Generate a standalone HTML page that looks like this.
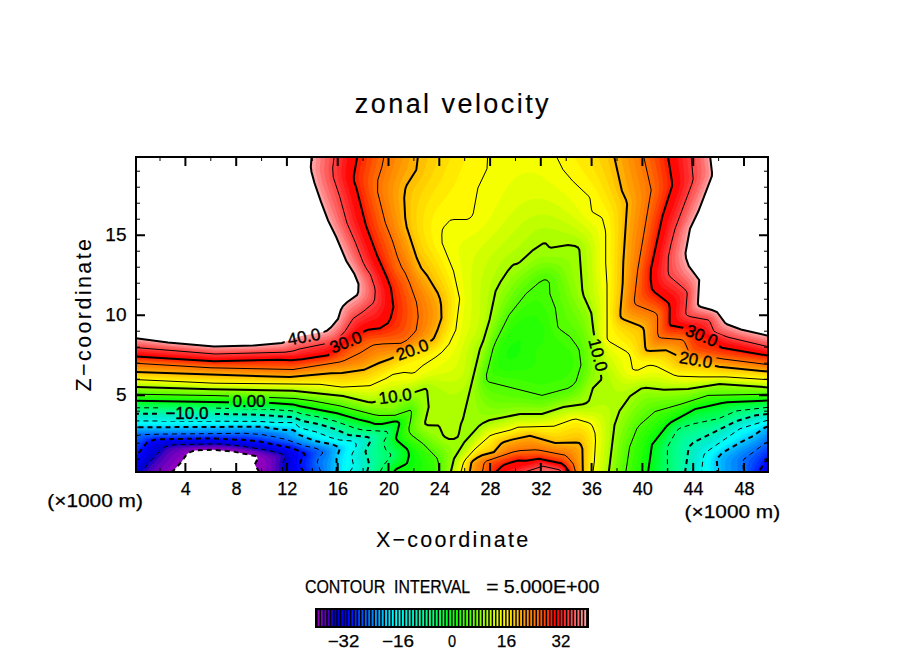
<!DOCTYPE html><html><head><meta charset="utf-8"><style>html,body{margin:0;padding:0;background:#fff}svg{display:block}</style></head><body><svg width="904" height="654" viewBox="0 0 904 654" font-family="Liberation Sans, sans-serif">
<defs><clipPath id="c"><rect x="136" y="157" width="632" height="315"/></clipPath>
<mask id="lm" maskUnits="userSpaceOnUse" x="0" y="0" width="904" height="654"><rect width="904" height="654" fill="#fff"/><rect x="-20.0" y="-8" width="40" height="16" fill="#000" transform="translate(304.0 336.6) rotate(-10.8)"/><rect x="-20.0" y="-8" width="40" height="16" fill="#000" transform="translate(345.8 342.1) rotate(-22.0)"/><rect x="-20.0" y="-8" width="40" height="16" fill="#000" transform="translate(412.2 349.6) rotate(-19.7)"/><rect x="-20.0" y="-8" width="40" height="16" fill="#000" transform="translate(395.1 396.1) rotate(-7.9)"/><rect x="-20.0" y="-8" width="40" height="16" fill="#000" transform="translate(249.0 401.3) rotate(0.0)"/><rect x="-26.0" y="-8" width="52" height="16" fill="#000" transform="translate(186.9 413.0) rotate(0.0)"/><rect x="-20.0" y="-8" width="40" height="16" fill="#000" transform="translate(598.3 354.9) rotate(75.6)"/><rect x="-20.0" y="-8" width="40" height="16" fill="#000" transform="translate(701.8 335.4) rotate(22.4)"/><rect x="-20.0" y="-8" width="40" height="16" fill="#000" transform="translate(695.8 359.7) rotate(10.2)"/></mask></defs>
<g clip-path="url(#c)">
<path fill-rule="evenodd" fill="#8c00be" d="M137.0 157.0 768.0 157.0 768.0 472.0 259.3 472.0 255.0 465.0 255.4 463.0 257.6 459.0 257.1 457.0 255.6 456.0 233.0 451.4 213.0 449.8 195.0 450.4 189.0 452.6 186.1 455.0 182.0 461.2 172.2 472.0 136.0 472.0 136.0 157.0 137.0 157.0Z"/>
<path fill-rule="evenodd" fill="#7800be" d="M137.0 157.0 768.0 157.0 768.0 472.0 266.2 472.0 266.3 464.0 265.7 461.0 263.6 458.0 259.0 454.7 233.0 449.9 213.0 448.5 194.4 449.0 185.0 452.0 179.7 456.0 164.7 472.0 136.0 472.0 136.0 157.0 137.0 157.0Z"/>
<path fill-rule="evenodd" fill="#6200be" d="M137.0 157.0 768.0 157.0 768.0 472.0 271.2 472.0 271.8 463.0 271.2 460.0 269.0 457.5 264.4 455.0 257.0 452.5 234.0 448.8 215.0 447.4 194.0 447.8 179.6 451.0 175.0 453.0 172.5 455.0 165.2 464.0 157.6 472.0 136.0 472.0 136.0 157.0 137.0 157.0Z"/>
<path fill-rule="evenodd" fill="#4800be" d="M137.0 157.0 768.0 157.0 768.0 472.0 275.3 472.0 276.0 459.0 274.9 457.0 272.0 455.3 257.0 451.1 233.0 447.3 218.0 446.2 194.0 446.6 175.0 449.0 171.0 450.7 168.1 453.0 162.0 460.6 151.4 472.0 136.0 472.0 136.0 157.0 137.0 157.0Z"/>
<path fill-rule="evenodd" fill="#1e00c3" d="M137.0 157.0 768.0 157.0 768.0 472.0 279.0 472.0 279.0 465.0 280.5 458.0 279.7 456.0 277.0 454.4 263.5 451.0 238.0 446.8 218.0 445.1 179.0 446.2 170.0 447.8 167.2 449.0 165.0 450.8 150.9 466.0 146.2 472.0 136.0 472.0 136.0 157.0 137.0 157.0Z"/>
<path fill-rule="evenodd" fill="#0000cf" d="M137.0 157.0 768.0 157.0 768.0 472.0 282.7 472.0 282.5 464.0 284.8 458.0 284.3 456.0 282.2 454.0 274.0 451.5 263.0 449.4 235.0 445.2 218.0 443.9 176.0 444.6 166.0 446.5 162.0 449.0 150.0 461.6 141.9 472.0 136.0 472.0 136.0 157.0 137.0 157.0Z"/>
<path fill-rule="evenodd" fill="#0000dd" d="M137.0 157.0 768.0 157.0 768.0 472.0 286.5 472.0 286.3 466.0 287.9 458.0 286.7 455.0 284.0 452.9 274.0 450.1 264.0 448.1 236.0 444.1 218.0 442.8 176.0 443.2 163.0 445.0 158.7 447.0 156.0 449.2 138.3 471.0 137.4 472.0 136.0 472.0 136.0 157.0 137.0 157.0Z"/>
<path fill-rule="evenodd" fill="#0000ea" d="M137.0 157.0 768.0 157.0 768.0 472.0 290.4 472.0 289.9 467.0 290.9 460.0 290.7 457.0 288.7 454.0 285.0 451.7 263.0 446.5 236.6 443.0 217.0 441.7 175.0 442.0 164.0 442.9 158.6 444.0 155.0 445.6 152.2 448.0 143.6 460.0 136.0 468.8 136.0 157.0 137.0 157.0Z"/>
<path fill-rule="evenodd" fill="#0000f8" d="M137.0 157.0 768.0 157.0 768.0 467.5 764.9 472.0 294.3 472.0 293.3 466.0 293.9 456.0 292.0 453.5 287.3 451.0 262.0 444.9 238.0 442.0 215.0 440.5 174.0 440.9 161.0 441.7 156.0 442.6 152.8 444.0 150.0 446.1 141.0 459.0 136.0 464.5 136.0 157.0 137.0 157.0Z"/>
<path fill-rule="evenodd" fill="#0009ff" d="M137.0 157.0 768.0 157.0 768.0 462.9 761.9 472.0 298.7 472.0 297.0 468.0 296.5 464.0 298.5 455.0 297.2 453.0 294.0 451.3 285.0 448.6 261.0 443.3 240.7 441.0 214.0 439.4 174.0 439.8 155.2 441.0 150.2 443.0 147.7 445.0 139.3 457.0 136.0 460.6 136.0 157.0 137.0 157.0Z"/>
<path fill-rule="evenodd" fill="#001bff" d="M137.0 157.0 768.0 157.0 768.0 458.5 764.4 463.0 758.8 472.0 303.7 472.0 300.8 467.0 300.1 463.0 301.2 460.0 304.5 456.0 304.7 454.0 301.8 452.0 295.0 449.0 260.0 441.7 244.0 440.0 214.0 438.3 164.0 439.0 154.0 439.8 149.0 441.5 146.6 443.0 136.0 456.6 136.0 157.0 137.0 157.0Z"/>
<path fill-rule="evenodd" fill="#002eff" d="M137.0 157.0 768.0 157.0 768.0 454.7 762.1 461.0 755.9 472.0 307.4 472.0 305.3 464.0 308.5 455.0 307.7 453.0 306.5 452.0 291.6 446.0 260.0 440.3 245.0 438.7 214.0 437.4 156.0 438.3 150.0 439.5 146.0 441.2 142.7 444.0 136.0 451.7 136.0 157.0 137.0 157.0Z"/>
<path fill-rule="evenodd" fill="#0040ff" d="M137.0 157.0 768.0 157.0 768.0 451.3 763.0 455.4 759.0 460.0 755.3 466.0 753.0 472.0 310.6 472.0 309.0 464.0 311.0 455.0 310.4 453.0 309.0 451.6 292.8 445.0 260.0 439.1 246.0 437.5 215.0 436.5 156.0 437.2 149.0 438.4 145.0 439.7 136.0 447.2 136.0 157.0 137.0 157.0Z"/>
<path fill-rule="evenodd" fill="#0052ff" d="M137.0 157.0 768.0 157.0 768.0 448.0 760.2 454.0 754.7 460.0 752.1 465.0 750.1 472.0 313.8 472.0 311.8 464.0 313.6 454.0 312.7 452.0 311.6 451.0 292.0 443.7 260.0 437.8 246.0 436.1 217.0 435.5 157.0 436.2 144.7 438.0 136.0 443.5 136.0 157.0 137.0 157.0Z"/>
<path fill-rule="evenodd" fill="#0064ff" d="M137.0 157.0 768.0 157.0 768.0 444.7 757.9 452.0 750.5 459.0 748.4 463.0 747.0 472.0 317.2 472.0 314.3 463.0 314.7 460.0 317.0 454.0 316.9 452.0 316.1 451.0 313.0 449.4 304.0 447.0 294.0 443.1 278.0 439.6 248.0 434.9 213.0 434.5 153.0 435.4 143.0 436.6 136.0 440.0 136.0 157.0 137.0 157.0Z"/>
<path fill-rule="evenodd" fill="#0076ff" d="M137.0 157.0 768.0 157.0 768.0 441.2 744.0 459.0 742.9 462.0 743.3 472.0 320.8 472.0 317.2 462.0 318.7 458.0 322.8 453.0 321.8 451.0 317.0 448.6 305.0 446.0 286.0 439.5 271.0 436.1 261.0 434.4 245.0 433.3 157.0 434.2 143.0 434.7 136.0 435.6 136.0 157.0 137.0 157.0Z"/>
<path fill-rule="evenodd" fill="#0089ff" d="M137.0 157.0 768.0 157.0 768.0 437.2 760.0 443.7 743.0 454.3 739.7 457.0 738.2 459.0 737.1 462.0 737.6 472.0 324.2 472.0 322.5 463.0 322.9 461.0 326.8 454.0 326.7 452.0 325.0 450.0 318.0 447.2 304.0 444.1 278.0 434.4 270.0 432.9 259.0 432.0 136.0 433.0 136.0 157.0 137.0 157.0Z"/>
<path fill-rule="evenodd" fill="#009bff" d="M137.0 157.0 768.0 157.0 768.0 433.6 758.0 441.8 740.0 452.2 734.0 457.0 731.8 460.0 730.9 463.0 731.2 472.0 327.3 472.0 327.2 463.0 329.8 453.0 329.4 451.0 328.0 449.4 322.5 447.0 306.0 443.0 295.0 439.5 286.0 434.8 282.0 433.5 260.0 430.4 167.0 431.6 136.0 431.4 136.0 157.0 137.0 157.0Z"/>
<path fill-rule="evenodd" fill="#00adff" d="M137.0 157.0 768.0 157.0 768.0 430.6 756.0 440.0 736.1 451.0 727.9 457.0 725.9 460.0 725.1 463.0 725.8 472.0 330.4 472.0 330.7 462.0 332.7 452.0 331.8 449.0 328.0 447.0 315.0 443.9 296.0 438.0 286.0 432.9 260.0 429.0 166.0 430.2 136.0 429.9 136.0 157.0 137.0 157.0Z"/>
<path fill-rule="evenodd" fill="#00bfff" d="M137.0 157.0 768.0 157.0 768.0 428.2 764.6 430.0 754.0 438.3 735.7 448.0 724.4 455.0 721.9 458.0 720.6 461.0 721.4 472.0 333.4 472.0 333.7 460.0 335.9 450.0 335.2 448.0 331.8 446.0 316.0 442.9 297.0 436.2 295.4 435.0 295.0 433.0 294.0 431.9 278.0 431.1 264.0 428.1 260.0 427.8 136.0 428.6 136.0 157.0 137.0 157.0Z"/>
<path fill-rule="evenodd" fill="#00d1ff" d="M137.0 157.0 768.0 157.0 768.0 426.3 764.2 428.0 754.0 435.4 739.0 443.2 722.0 453.2 718.5 457.0 716.8 460.0 717.5 472.0 336.2 472.0 336.8 468.0 336.5 459.0 337.4 455.0 339.7 449.0 338.6 447.0 332.0 444.3 315.0 441.0 298.0 434.4 295.0 431.0 293.0 430.1 279.0 429.6 270.0 427.8 260.0 426.7 136.0 427.3 136.0 157.0 137.0 157.0Z"/>
<path fill-rule="evenodd" fill="#00e4ff" d="M137.0 157.0 768.0 157.0 768.0 424.9 764.7 426.0 754.0 432.6 741.0 439.1 719.8 452.0 715.9 456.0 713.8 460.0 714.0 472.0 338.8 472.0 339.5 459.0 343.0 449.0 342.0 446.7 332.3 443.0 317.0 439.9 300.0 433.4 295.0 429.7 291.0 428.2 260.0 425.6 136.0 426.0 136.0 157.0 137.0 157.0Z"/>
<path fill-rule="evenodd" fill="#00f6ff" d="M137.0 157.0 768.0 157.0 768.0 423.6 763.7 425.0 743.0 434.9 717.8 451.0 713.7 455.0 711.4 459.0 710.7 463.0 710.7 472.0 341.3 472.0 342.9 458.0 345.9 449.0 344.8 446.0 341.0 444.2 318.0 438.4 300.0 431.9 294.0 427.6 291.0 426.7 259.0 424.6 136.0 424.8 136.0 157.0 137.0 157.0Z"/>
<path fill-rule="evenodd" fill="#00fdfa" d="M137.0 157.0 768.0 157.0 768.0 422.4 743.0 432.0 715.9 450.0 711.5 454.0 709.0 458.0 708.0 463.0 707.6 472.0 343.7 472.0 345.3 465.0 346.3 456.0 349.1 448.0 349.0 446.0 348.2 445.0 345.0 443.6 338.0 442.3 322.7 438.0 301.0 430.9 297.0 428.7 294.0 425.8 259.0 423.6 136.0 423.5 136.0 157.0 137.0 157.0Z"/>
<path fill-rule="evenodd" fill="#00f9f0" d="M137.0 157.0 768.0 157.0 768.0 421.2 742.0 429.9 712.7 450.0 708.2 454.0 706.4 457.0 704.5 472.0 346.4 472.0 349.0 465.0 348.9 456.0 352.8 447.0 352.5 444.0 349.0 442.4 337.0 440.9 313.7 433.0 301.0 429.5 297.9 428.0 295.0 424.9 293.0 423.9 282.0 424.0 259.0 422.5 136.0 422.2 136.0 157.0 137.0 157.0Z"/>
<path fill-rule="evenodd" fill="#00f5e6" d="M137.0 157.0 768.0 157.0 768.0 420.1 741.0 428.1 707.6 451.0 704.4 454.0 703.5 456.0 701.5 472.0 349.7 472.0 353.6 466.0 351.7 456.0 352.1 454.0 356.2 446.0 356.1 444.0 354.6 442.0 351.0 440.9 339.0 439.9 332.0 438.1 318.0 432.5 301.0 428.1 298.0 426.4 295.0 423.4 293.0 422.6 276.0 422.5 257.0 421.4 136.0 420.9 136.0 157.0 137.0 157.0Z"/>
<path fill-rule="evenodd" fill="#00f1dc" d="M137.0 157.0 768.0 157.0 768.0 418.9 754.9 422.0 740.0 426.6 704.4 450.0 702.3 452.0 700.8 455.0 698.4 472.0 354.3 472.0 356.2 469.0 357.0 466.0 355.1 455.0 358.6 445.0 358.2 443.0 356.4 441.0 354.0 439.9 341.0 438.5 334.0 437.0 320.0 431.3 301.0 426.6 294.0 421.7 257.0 420.2 136.0 419.5 136.0 157.0 137.0 157.0Z"/>
<path fill-rule="evenodd" fill="#00edd2" d="M137.0 157.0 768.0 157.0 768.0 417.7 755.0 420.3 739.0 425.2 702.5 448.0 699.5 451.0 697.7 455.0 695.2 472.0 358.1 472.0 359.6 468.0 359.9 465.0 358.1 457.0 358.1 454.0 360.8 445.0 360.7 443.0 359.4 441.0 355.0 438.9 347.0 438.1 337.4 436.0 320.0 429.5 303.0 425.7 294.0 420.8 257.0 418.8 136.0 418.0 136.0 157.0 137.0 157.0Z"/>
<path fill-rule="evenodd" fill="#00eec6" d="M137.0 157.0 768.0 157.0 768.0 416.5 755.0 418.6 737.8 424.0 700.4 446.0 697.2 449.0 695.1 453.0 691.9 472.0 361.3 472.0 362.8 465.0 360.7 456.0 360.7 453.0 363.3 443.0 362.7 441.0 361.6 440.0 356.0 438.0 345.0 436.4 320.0 427.7 304.0 424.5 294.0 419.9 257.0 417.4 136.0 416.5 136.0 157.0 137.0 157.0Z"/>
<path fill-rule="evenodd" fill="#00f2b8" d="M137.0 157.0 768.0 157.0 768.0 415.3 756.0 416.8 737.0 422.6 697.0 444.5 693.6 448.0 691.8 452.0 688.5 472.0 364.2 472.0 365.8 464.0 362.9 453.0 363.4 450.0 366.5 442.0 366.2 440.0 365.0 439.0 358.0 437.2 347.7 436.0 323.0 426.9 305.0 423.2 293.0 418.6 258.0 416.1 214.0 415.2 136.0 415.1 136.0 157.0 137.0 157.0Z"/>
<path fill-rule="evenodd" fill="#00f8ab" d="M137.0 157.0 768.0 157.0 768.0 414.0 756.0 415.2 736.5 421.0 693.0 442.7 690.0 445.8 688.5 449.0 685.1 472.0 367.1 472.0 368.8 466.0 368.9 463.0 365.5 452.0 366.0 449.9 370.0 442.0 370.3 440.0 369.7 438.0 367.0 436.9 348.7 435.0 339.0 430.5 329.0 427.1 320.0 424.4 304.0 421.4 293.0 417.2 262.0 414.9 219.0 413.9 136.0 413.8 136.0 157.0 137.0 157.0Z"/>
<path fill-rule="evenodd" fill="#00fc9d" d="M137.0 157.0 768.0 157.0 768.0 412.7 755.2 414.0 737.0 419.0 718.0 427.8 689.4 440.0 686.0 443.6 684.2 448.0 681.6 472.0 369.8 472.0 371.9 463.0 369.5 453.0 369.5 451.0 372.9 443.0 373.5 440.0 373.1 438.0 372.0 436.6 369.0 435.5 349.0 433.6 340.0 429.2 333.9 427.0 320.4 423.0 303.0 419.7 294.0 415.9 286.0 414.9 262.0 413.6 218.0 412.6 136.0 412.6 136.0 157.0 137.0 157.0Z"/>
<path fill-rule="evenodd" fill="#00ff8e" d="M137.0 157.0 768.0 157.0 768.0 411.4 755.0 412.7 738.0 416.8 718.0 425.6 690.0 435.0 686.0 437.0 682.3 441.0 679.8 447.0 678.1 472.0 372.4 472.0 374.9 462.0 373.8 451.0 376.2 440.0 376.0 438.0 374.6 436.0 370.0 434.3 350.0 432.3 335.0 425.7 321.0 421.7 302.0 418.1 294.0 414.7 266.0 412.6 217.0 411.4 136.0 411.4 136.0 157.0 137.0 157.0Z"/>
<path fill-rule="evenodd" fill="#00ff80" d="M137.0 157.0 768.0 157.0 768.0 410.1 755.0 411.3 738.0 414.8 718.0 423.5 688.0 431.7 683.0 434.0 679.0 438.7 675.5 447.0 674.6 472.0 375.0 472.0 378.6 460.0 377.6 449.0 378.9 438.0 378.4 436.0 377.4 435.0 374.0 433.6 352.0 431.0 339.0 425.5 331.0 423.0 320.0 420.1 302.0 416.7 294.0 413.6 287.0 412.7 264.0 411.4 216.0 410.2 136.0 410.2 136.0 157.0 137.0 157.0Z"/>
<path fill-rule="evenodd" fill="#00ff70" d="M137.0 157.0 768.0 157.0 768.0 408.7 755.0 410.0 737.0 413.0 718.0 421.3 691.0 427.6 680.8 431.0 677.0 435.5 671.4 447.0 671.0 472.0 377.5 472.0 382.9 460.0 383.7 457.0 381.4 450.0 380.8 446.0 381.0 441.9 382.8 435.0 382.2 434.0 380.1 433.0 373.3 432.0 365.0 431.7 355.1 430.0 338.0 423.6 328.0 420.7 302.0 415.3 294.0 412.6 287.0 411.6 265.0 410.3 216.0 409.1 136.0 409.0 136.0 157.0 137.0 157.0Z"/>
<path fill-rule="evenodd" fill="#00ff62" d="M137.0 157.0 768.0 157.0 768.0 407.3 736.0 411.0 718.0 418.9 695.0 423.5 679.0 428.6 675.9 432.0 668.0 446.0 667.4 450.0 667.4 472.0 380.0 472.0 383.1 466.0 389.7 458.0 390.9 455.0 389.8 453.0 385.9 450.0 384.2 446.0 384.1 441.0 387.9 434.0 387.2 432.0 385.0 431.1 366.0 430.5 362.0 429.9 354.0 427.9 333.0 420.5 318.0 416.8 302.0 414.0 294.0 411.2 290.0 410.7 265.0 409.2 216.0 407.9 136.0 407.8 136.0 157.0 137.0 157.0Z"/>
<path fill-rule="evenodd" fill="#00ff50" d="M137.0 157.0 768.0 157.0 768.0 405.9 735.0 409.1 718.0 415.9 696.0 420.1 677.5 427.0 673.8 431.0 664.9 446.0 664.0 452.0 663.7 472.0 382.6 472.0 386.2 466.0 393.0 458.9 394.7 455.0 393.9 452.0 389.0 447.1 387.8 445.0 387.6 441.0 390.2 433.0 389.0 430.1 387.0 429.2 373.0 429.3 364.0 428.7 356.0 426.7 335.0 419.5 317.0 415.2 301.0 412.3 294.0 409.8 290.0 409.3 266.0 408.0 216.0 406.8 136.0 406.5 136.0 157.0 137.0 157.0Z"/>
<path fill-rule="evenodd" fill="#00ff3c" d="M137.0 157.0 768.0 157.0 768.0 404.5 738.0 406.7 732.0 407.7 716.0 413.1 696.0 417.0 677.0 425.1 671.9 430.0 664.4 441.0 661.9 446.0 660.7 452.0 659.8 472.0 385.3 472.0 388.4 467.0 396.2 459.0 397.6 455.0 396.6 451.0 392.0 445.8 390.5 443.0 390.3 440.0 392.0 431.0 391.0 428.6 389.0 427.6 374.0 428.0 364.4 427.0 336.0 418.1 315.0 413.3 301.0 410.9 294.0 408.5 291.0 408.1 268.0 406.8 216.0 405.5 136.0 405.1 136.0 157.0 137.0 157.0Z"/>
<path fill-rule="evenodd" fill="#00ff28" d="M137.0 157.0 768.0 157.0 768.0 403.1 737.0 405.0 727.0 406.4 714.0 410.3 696.0 413.9 676.0 423.6 672.7 426.0 670.0 429.0 661.5 441.0 658.8 446.0 657.5 452.0 656.0 472.0 387.9 472.0 391.3 467.0 398.8 460.0 400.8 455.0 400.3 452.0 399.3 450.0 394.0 444.2 392.7 442.0 392.3 439.0 394.0 429.0 393.4 427.0 392.0 426.0 389.0 425.6 376.0 426.8 369.6 426.0 358.0 423.4 337.0 416.7 291.0 406.9 271.0 405.6 217.0 404.3 136.0 403.7 136.0 157.0 137.0 157.0Z"/>
<path fill-rule="evenodd" fill="#00ff14" d="M137.0 157.0 768.0 157.0 768.0 401.8 735.0 403.4 724.0 404.7 695.0 411.5 675.0 422.1 668.9 427.0 655.8 445.0 654.2 451.0 652.1 472.0 390.7 472.0 394.0 467.5 402.1 461.0 403.8 458.0 404.4 455.0 404.1 452.0 403.1 450.0 396.0 442.9 394.3 440.0 394.3 437.0 396.5 427.0 396.3 425.0 395.0 423.8 391.0 423.7 380.0 425.4 374.0 425.3 357.0 421.1 338.0 415.2 290.0 405.6 272.0 404.3 217.0 403.0 136.0 402.2 136.0 157.0 137.0 157.0Z"/>
<path fill-rule="evenodd" fill="#08ff09" d="M137.0 157.0 768.0 157.0 768.0 400.5 726.0 402.4 708.4 406.0 693.0 409.9 672.0 421.6 667.7 425.0 652.3 444.0 651.0 449.0 648.1 472.0 393.8 472.0 396.3 469.0 404.5 465.0 407.0 463.1 408.9 456.0 408.5 452.0 407.0 449.1 398.0 441.3 396.3 439.0 396.4 436.0 399.3 424.0 399.0 422.8 397.0 421.5 393.0 421.7 382.0 423.9 375.0 424.0 338.0 413.4 290.0 404.1 272.0 403.1 216.0 401.8 136.0 400.8 136.0 157.0 137.0 157.0Z"/>
<path fill-rule="evenodd" fill="#16ff06" d="M137.0 157.0 768.0 157.0 768.0 399.2 726.0 400.8 709.0 403.6 692.4 408.0 670.0 420.1 664.2 425.0 651.5 439.0 648.8 443.0 647.4 448.0 644.0 472.0 400.6 472.0 408.0 469.9 411.7 468.0 414.1 465.0 414.9 460.0 413.7 454.0 411.0 449.0 401.6 441.0 399.1 438.0 398.9 435.0 401.6 424.0 401.0 421.5 399.0 420.2 395.0 420.0 382.0 422.4 376.0 422.5 368.0 419.8 356.0 417.1 339.0 411.9 300.0 404.9 293.0 403.0 272.0 401.9 216.0 400.5 136.0 399.5 136.0 157.0 137.0 157.0Z"/>
<path fill-rule="evenodd" fill="#26ff04" d="M137.0 157.0 768.0 157.0 768.0 397.9 726.0 399.3 709.0 401.4 692.0 406.2 668.0 418.2 660.7 424.0 649.9 435.0 646.0 440.3 643.6 447.0 639.8 472.0 419.0 472.0 420.6 470.0 421.9 467.0 422.0 464.0 421.1 460.0 418.3 454.0 414.9 449.0 412.0 446.0 404.2 440.0 402.0 437.1 401.6 433.0 403.5 423.0 402.4 420.0 400.0 418.8 396.0 418.7 382.0 420.9 377.0 420.9 339.0 410.4 292.0 401.8 216.0 399.3 136.0 398.2 136.0 157.0 137.0 157.0ZM516.5 341.0 511.0 345.1 507.1 351.0 506.5 356.0 507.5 358.0 509.0 359.1 512.0 359.3 515.0 358.1 517.4 356.0 519.1 353.0 520.5 348.0 520.7 343.0 520.0 341.2 519.0 340.6 516.5 341.0Z"/>
<path fill-rule="evenodd" fill="#34ff01" d="M137.0 157.0 768.0 157.0 768.0 396.7 726.0 397.9 708.0 399.6 691.0 404.7 664.0 416.8 659.0 420.4 648.7 430.0 645.1 434.0 642.5 438.0 639.6 446.0 635.4 472.0 428.3 472.0 429.2 469.0 429.1 465.0 427.7 461.0 425.3 457.0 418.3 448.0 407.0 439.2 404.5 436.0 403.9 432.0 405.4 424.0 405.4 421.0 404.0 418.5 402.0 417.4 398.0 417.3 382.0 419.2 377.0 419.2 339.0 409.0 323.0 406.3 312.0 403.7 292.0 400.6 216.0 398.1 136.0 396.9 136.0 157.0 137.0 157.0ZM527.5 316.0 522.0 318.9 516.0 324.5 507.0 336.7 501.0 346.4 498.3 354.0 497.3 362.0 498.0 366.1 501.0 369.3 505.0 370.6 510.0 371.1 524.0 370.1 531.0 367.6 533.3 366.0 535.5 363.0 536.3 359.0 535.8 351.0 543.0 341.9 544.5 336.0 544.5 330.0 541.0 322.5 537.0 317.6 533.0 315.5 527.5 316.0Z"/>
<path fill-rule="evenodd" fill="#44ff00" d="M137.0 157.0 768.0 157.0 768.0 395.4 726.0 396.4 708.0 397.5 691.0 402.8 659.0 415.0 655.0 417.9 644.0 427.8 639.1 435.0 635.0 446.0 630.7 472.0 434.5 472.0 434.9 469.0 434.3 464.0 433.4 461.0 431.6 458.0 420.8 446.0 409.6 438.0 407.0 435.0 406.2 430.0 407.8 420.0 406.9 417.0 405.0 415.6 401.0 415.4 390.8 417.0 377.0 417.3 340.0 407.6 312.0 402.2 293.0 399.6 216.0 396.8 136.0 395.6 136.0 157.0 137.0 157.0ZM532.1 301.0 526.0 304.9 516.0 314.2 512.0 319.3 507.0 327.7 496.1 348.0 492.4 363.0 491.7 371.0 493.0 374.1 498.0 376.6 520.0 380.0 538.0 384.4 544.0 384.5 561.0 379.4 567.0 376.2 570.0 372.5 572.9 367.0 573.7 364.0 573.7 360.0 572.4 355.0 570.0 351.0 558.0 340.1 554.0 335.0 551.4 329.0 547.0 312.7 543.6 306.0 541.0 302.9 538.0 300.8 535.0 300.3 532.1 301.0Z"/>
<path fill-rule="evenodd" fill="#55ff00" d="M137.0 157.0 768.0 157.0 768.0 394.2 708.0 395.4 681.0 404.1 655.0 411.5 640.0 424.6 636.7 429.0 629.6 447.0 625.8 472.0 438.8 472.0 438.4 463.0 437.0 458.0 423.4 444.0 411.5 435.0 409.3 432.0 408.9 428.0 410.7 420.0 411.5 413.0 411.2 411.0 410.0 410.2 395.0 415.3 379.0 415.5 374.0 414.7 340.0 405.9 312.0 400.7 294.0 398.4 216.0 395.6 136.0 394.2 136.0 157.0 137.0 157.0ZM543.3 280.0 538.4 283.0 526.0 293.7 509.0 315.1 496.0 341.1 493.2 348.0 486.4 375.0 486.9 380.0 488.7 382.0 542.0 395.4 568.0 388.3 573.0 385.1 576.2 381.0 581.0 365.0 579.1 350.0 577.0 346.2 570.0 336.7 560.0 329.4 557.9 327.0 555.3 308.0 549.9 294.0 549.4 283.0 547.0 280.1 545.0 279.6 543.3 280.0Z"/>
<path fill-rule="evenodd" fill="#66ff00" d="M137.0 157.0 768.0 157.0 768.0 392.8 709.0 393.2 682.0 401.0 657.0 405.8 652.0 407.5 647.0 411.0 638.0 419.8 634.5 424.0 632.2 428.0 625.0 447.2 623.0 459.3 621.7 472.0 441.7 472.0 441.7 461.0 441.0 458.0 439.5 455.0 426.9 443.0 416.3 434.0 412.9 430.0 412.3 426.0 414.7 415.0 415.0 411.0 413.8 408.0 411.0 406.2 406.4 407.0 396.0 413.1 393.0 413.8 388.0 413.9 375.0 412.9 340.0 404.0 312.0 399.1 293.0 396.9 217.0 394.4 136.0 392.8 136.0 157.0 137.0 157.0ZM540.7 274.0 535.0 277.4 526.0 285.3 520.0 291.8 514.0 299.9 506.0 312.6 492.2 344.0 483.7 373.0 482.9 380.0 483.8 384.0 486.0 387.5 490.0 390.9 495.0 393.3 509.0 396.8 537.0 400.3 543.0 400.3 570.0 392.6 576.4 388.0 581.2 381.0 584.5 369.0 585.1 364.0 584.1 351.0 582.0 343.2 577.0 332.5 568.4 321.0 566.3 317.0 559.8 297.0 557.0 283.0 555.0 278.2 552.0 275.0 549.0 273.5 545.0 273.0 540.7 274.0Z"/>
<path fill-rule="evenodd" fill="#77ff00" d="M137.0 157.0 768.0 157.0 768.0 391.5 720.0 390.4 712.0 390.8 705.0 392.0 683.0 397.9 654.0 401.7 648.0 403.7 643.0 407.3 636.0 414.8 631.0 421.4 627.5 428.0 624.0 437.6 621.4 447.0 618.3 472.0 444.2 472.0 444.8 460.0 444.0 456.0 442.5 453.0 438.8 449.0 420.0 433.5 416.2 429.0 415.4 424.0 417.4 414.0 417.5 410.0 416.0 405.9 414.0 404.0 412.0 403.2 409.0 403.1 405.0 404.3 394.0 411.1 388.0 411.6 371.0 409.9 339.0 401.8 313.0 397.7 293.0 395.4 136.0 391.4 136.0 157.0 137.0 157.0ZM543.3 268.0 537.0 270.2 530.0 274.9 521.0 283.1 513.5 292.0 509.0 299.0 504.0 308.4 491.0 341.0 481.4 373.0 480.3 382.0 481.6 388.0 485.0 394.3 489.0 398.6 494.0 401.4 502.0 402.8 520.0 402.8 537.0 404.4 546.0 403.4 568.0 396.9 574.4 394.0 578.0 391.2 580.6 388.0 585.3 379.0 588.2 369.0 588.5 360.0 586.8 345.0 582.4 330.0 579.0 322.2 572.0 310.0 568.8 303.0 566.0 295.0 562.4 281.0 559.8 275.0 557.0 271.6 553.0 269.1 548.0 267.8 543.3 268.0Z"/>
<path fill-rule="evenodd" fill="#89ff00" d="M137.0 157.0 768.0 157.0 768.0 390.1 717.0 388.1 706.0 389.8 686.0 394.5 667.0 396.7 651.0 397.2 644.6 399.0 639.5 403.0 633.0 410.8 627.3 419.0 623.3 427.0 620.8 435.0 618.3 446.0 615.1 472.0 446.5 472.0 447.8 459.0 447.6 455.0 446.7 452.0 443.0 447.6 431.1 438.0 423.0 432.3 419.7 429.0 418.6 427.0 418.1 424.0 420.0 413.0 420.0 408.0 417.9 403.0 414.0 400.4 410.0 400.0 405.0 401.1 394.0 407.2 391.0 408.2 376.0 408.1 368.0 407.1 341.0 400.0 293.0 393.8 136.0 390.0 136.0 157.0 137.0 157.0ZM541.6 263.0 536.0 265.1 531.0 268.2 521.3 276.0 515.2 282.0 506.4 294.0 499.8 309.0 487.8 344.0 479.4 372.0 477.9 380.0 478.2 389.0 481.0 398.4 485.0 404.7 490.0 407.8 498.0 408.9 519.0 406.9 541.0 407.7 547.0 406.5 559.8 402.0 571.0 399.0 577.0 396.3 581.0 392.8 585.2 386.0 590.3 375.0 591.7 369.0 591.8 361.0 590.3 346.0 588.0 333.9 583.0 317.0 575.7 304.0 572.6 297.0 565.4 273.0 562.0 267.6 557.0 264.2 549.0 262.5 541.6 263.0Z"/>
<path fill-rule="evenodd" fill="#9bff00" d="M137.0 157.0 768.0 157.0 768.0 388.8 719.0 385.8 688.0 391.6 665.0 393.3 647.0 392.4 642.0 393.8 636.5 398.0 632.3 403.0 625.0 413.5 619.7 424.0 617.9 430.0 615.7 442.0 612.0 472.0 448.7 472.0 452.1 453.0 451.8 449.0 450.0 447.0 442.0 441.7 434.0 434.9 425.0 429.9 421.9 427.0 420.9 423.0 422.9 412.0 422.9 406.0 420.7 400.0 419.0 398.1 417.0 397.1 412.0 396.7 406.0 397.7 389.0 403.8 372.0 405.3 367.0 404.5 343.0 398.2 293.0 392.2 136.0 388.5 136.0 157.0 137.0 157.0ZM540.2 257.0 536.0 258.5 532.0 260.9 514.3 275.0 505.3 286.0 500.0 295.9 477.6 370.0 475.5 379.0 474.5 391.0 475.9 403.0 478.2 411.0 480.0 413.4 482.0 414.5 487.0 415.0 496.0 414.4 519.0 410.6 542.0 410.8 551.0 408.3 561.0 404.5 575.2 401.0 580.0 398.9 583.5 396.0 594.2 376.0 595.4 370.0 594.9 361.0 592.6 342.0 588.3 318.0 586.4 312.0 580.2 301.0 578.0 296.0 569.6 263.0 567.0 259.7 562.0 257.6 547.0 256.4 540.2 257.0Z"/>
<path fill-rule="evenodd" fill="#adff00" d="M137.0 157.0 768.0 157.0 768.0 387.4 719.0 384.0 688.0 389.1 664.0 389.8 645.0 387.7 640.3 389.0 632.5 394.0 629.2 397.0 620.4 409.0 616.3 419.0 614.2 427.0 608.8 472.0 450.8 472.0 453.5 460.0 456.6 454.0 466.0 440.0 478.0 426.9 482.0 423.6 488.0 420.6 512.0 415.3 520.0 413.9 542.0 413.9 563.0 407.1 582.0 404.4 586.0 403.1 589.0 400.7 593.0 388.0 601.4 379.0 594.6 339.0 591.3 313.0 590.0 309.2 583.9 297.0 582.6 292.0 581.7 285.0 581.9 279.0 580.6 271.0 579.9 254.0 579.1 249.0 578.0 247.5 576.0 246.4 570.0 244.9 551.0 247.7 549.0 247.0 545.0 243.2 542.0 244.0 534.0 249.3 519.0 262.7 514.0 264.5 512.0 265.9 506.3 273.0 496.3 289.0 489.5 320.0 484.0 338.8 479.6 350.0 463.8 416.0 460.6 425.0 458.2 436.0 457.0 437.6 455.0 438.6 450.0 439.2 444.8 437.0 442.6 434.0 440.0 427.7 438.0 425.6 428.0 425.3 425.4 424.0 425.1 422.0 428.7 407.0 427.2 391.0 425.5 389.0 412.0 393.2 377.0 401.6 371.0 402.5 343.0 396.0 294.0 390.8 214.0 389.4 136.0 387.0 136.0 157.0 137.0 157.0Z"/>
<path fill-rule="evenodd" fill="#bfff00" d="M137.0 157.0 768.0 157.0 768.0 386.1 720.0 382.5 687.0 386.8 668.0 386.5 645.0 384.2 640.0 385.2 623.0 391.5 619.0 391.9 616.0 391.0 613.0 387.1 609.6 378.0 604.0 366.3 597.9 345.0 595.9 332.0 594.4 311.0 589.3 296.0 588.3 291.0 588.2 277.0 586.4 253.0 584.6 245.0 580.8 240.0 574.0 235.8 553.0 228.9 545.0 227.8 538.0 229.2 531.7 233.0 518.0 247.5 504.5 258.0 501.1 262.0 498.0 267.0 492.0 279.7 489.4 287.0 485.0 321.0 480.7 336.0 475.5 344.0 473.7 348.0 470.7 369.0 468.5 378.0 466.0 384.0 463.0 388.6 460.0 391.6 456.0 393.9 452.0 394.6 448.0 393.9 435.2 386.0 428.0 383.9 423.0 384.6 413.0 389.1 407.0 391.0 388.0 394.9 374.0 398.8 370.0 399.2 343.0 394.1 294.0 389.4 214.0 388.2 136.0 385.5 136.0 157.0 137.0 157.0ZM600.0 404.9 604.0 404.7 607.0 405.9 609.1 409.0 610.2 414.0 609.5 436.0 605.5 472.0 453.0 472.0 455.6 462.0 458.8 456.0 469.5 442.0 478.0 432.4 483.0 427.7 488.0 424.8 516.0 417.7 521.0 417.1 542.0 416.7 566.0 409.7 586.0 408.4 600.0 404.9Z"/>
<path fill-rule="evenodd" fill="#d1ff00" d="M137.0 157.0 768.0 157.0 768.0 384.8 721.0 381.1 686.0 384.5 674.0 384.2 652.0 380.9 644.0 381.2 628.0 384.3 624.0 383.8 620.0 381.8 615.8 377.0 608.0 363.3 603.0 352.5 599.4 342.0 598.0 331.0 597.7 311.0 593.1 289.0 591.1 251.0 590.3 246.0 588.6 241.0 586.0 236.8 582.0 232.7 568.0 223.7 554.0 216.9 548.0 215.2 542.0 214.7 537.0 215.2 532.0 216.8 527.8 219.0 523.0 222.6 495.2 251.0 491.0 256.1 487.4 262.0 483.6 271.0 481.1 282.0 480.4 290.0 480.0 313.0 477.8 327.0 475.7 333.0 470.5 342.0 468.5 347.0 467.0 353.0 465.2 367.0 463.4 373.0 460.3 378.0 456.0 381.0 450.0 382.1 435.0 380.0 427.0 380.3 422.0 381.7 408.0 387.3 390.0 390.6 374.0 395.3 369.0 395.9 346.0 392.7 320.0 389.9 294.0 388.1 215.0 387.0 136.0 384.0 136.0 157.0 137.0 157.0ZM570.0 411.9 577.0 411.5 596.0 412.2 601.0 414.4 603.9 418.0 605.5 424.0 606.0 434.0 602.2 472.0 455.1 472.0 458.0 462.0 460.8 457.0 477.0 437.4 482.3 432.0 487.0 428.6 492.0 426.6 516.0 420.5 544.0 419.0 570.0 411.9Z"/>
<path fill-rule="evenodd" fill="#e4ff00" d="M137.0 157.0 768.0 157.0 768.0 383.4 722.0 379.7 694.0 382.0 679.0 382.0 673.0 381.3 657.0 377.2 650.0 377.3 632.0 379.9 627.0 379.1 623.3 377.0 619.7 373.0 613.5 362.0 605.0 349.2 601.1 340.0 600.3 331.0 600.6 308.0 596.3 278.0 595.3 247.0 594.2 241.0 592.4 236.0 590.0 232.0 586.0 227.8 561.0 207.3 554.0 203.2 548.0 200.7 542.0 199.1 537.0 198.7 532.0 199.2 527.0 200.7 522.0 203.4 517.0 207.4 511.0 213.8 496.2 232.0 480.0 248.5 475.4 255.0 472.9 262.0 471.6 272.0 471.2 283.0 472.0 304.0 469.7 327.0 463.6 344.0 457.5 364.0 454.1 369.0 450.0 371.6 445.6 373.0 428.0 376.4 409.0 383.5 391.0 386.5 374.0 391.7 369.0 392.6 338.0 390.3 319.0 388.0 296.0 386.8 215.0 385.8 136.0 382.6 136.0 157.0 137.0 157.0ZM574.0 414.0 580.0 414.2 593.0 416.1 598.0 419.0 600.5 423.0 602.0 429.0 602.4 436.0 598.9 472.0 457.1 472.0 459.7 463.0 462.5 458.0 478.0 439.8 484.0 433.9 488.1 431.0 492.0 429.5 506.0 426.2 517.0 422.8 536.0 422.3 547.0 421.2 554.0 419.6 568.0 415.0 574.0 414.0Z"/>
<path fill-rule="evenodd" fill="#f6ff00" d="M137.0 157.0 768.0 157.0 768.0 381.8 725.0 378.4 697.0 379.6 679.0 379.4 674.0 378.6 663.0 374.1 657.0 372.5 652.0 372.6 636.0 376.0 631.0 375.5 627.0 373.2 624.0 369.0 621.2 361.0 619.6 358.0 607.0 346.0 604.3 342.0 603.3 339.0 602.9 332.0 603.8 314.0 603.6 303.0 602.5 290.0 600.2 276.0 599.9 243.0 599.0 236.0 597.4 231.0 594.0 225.9 582.7 215.0 573.0 201.7 565.0 194.0 542.0 176.6 535.0 173.3 529.0 172.4 525.0 172.9 521.0 174.2 517.0 176.6 513.0 180.2 508.0 186.1 503.4 193.0 491.3 216.0 486.0 224.0 478.0 231.7 463.3 241.0 459.9 245.0 458.7 249.0 458.7 254.0 461.6 270.0 465.0 300.0 461.6 330.0 456.1 347.0 453.0 353.5 447.0 361.1 438.2 367.0 413.0 378.8 406.0 380.3 393.0 381.3 381.0 385.2 373.0 388.5 368.0 389.3 340.0 388.8 325.0 386.6 314.0 385.9 215.0 384.5 136.0 381.1 136.0 157.0 137.0 157.0ZM572.0 416.8 578.0 416.5 590.0 419.1 594.0 421.2 596.7 425.0 598.4 431.0 598.9 437.0 595.8 472.0 459.1 472.0 461.6 463.0 463.8 459.0 477.0 444.1 485.3 436.0 489.7 433.0 519.0 424.8 538.0 424.6 552.0 423.3 572.0 416.8Z"/>
<path fill-rule="evenodd" fill="#fff800" d="M137.0 157.0 487.6 157.0 487.0 160.0 487.2 168.0 477.9 188.0 473.6 212.0 472.1 216.0 470.0 218.0 467.0 219.5 454.0 219.5 450.0 220.3 444.0 226.8 442.0 231.0 441.8 239.0 442.3 244.0 453.5 271.0 456.3 282.0 459.7 300.0 456.0 329.4 448.6 345.0 439.0 354.7 423.5 365.0 414.0 372.8 411.0 373.2 404.0 372.4 393.0 374.4 385.0 379.0 372.3 385.0 369.0 385.9 341.0 387.1 328.0 384.9 318.0 384.2 215.0 383.2 136.0 379.6 136.0 157.0 137.0 157.0ZM557.0 157.0 768.0 157.0 768.0 379.7 725.0 376.9 701.0 377.0 677.0 376.1 673.7 375.0 658.0 367.0 653.0 365.5 650.0 365.3 646.7 366.0 638.0 370.1 634.5 370.0 632.5 369.0 631.8 367.0 630.7 359.0 629.0 353.9 625.5 351.0 610.0 342.0 607.9 340.0 607.1 338.0 607.0 285.0 605.8 264.0 605.8 235.0 605.1 229.0 602.9 220.0 601.0 217.0 592.4 212.0 591.4 209.0 590.1 199.0 589.0 196.5 573.0 181.3 563.2 170.0 561.0 166.6 557.0 157.0ZM572.0 419.7 577.0 419.2 588.0 422.5 591.0 424.1 593.0 427.4 595.2 434.0 595.6 438.0 594.5 460.0 593.0 472.0 460.9 472.0 463.4 463.0 465.8 459.0 476.0 448.0 488.0 437.2 491.0 435.2 510.0 430.2 519.0 427.0 554.0 426.2 572.0 419.7Z"/>
<path fill-rule="evenodd" fill="#ffea00" d="M137.0 157.0 466.3 157.0 454.9 184.0 450.0 192.0 436.0 210.0 432.8 217.0 431.2 224.0 431.2 233.0 433.2 242.0 435.6 248.0 443.4 263.0 449.3 277.0 452.7 287.0 455.1 298.0 455.1 307.0 452.6 325.0 450.6 331.0 445.2 341.0 439.9 348.0 432.0 353.5 423.0 357.6 400.8 366.0 390.2 371.0 372.0 381.1 365.0 382.9 342.0 384.9 322.0 382.4 291.0 382.8 216.0 381.7 136.0 378.2 136.0 157.0 137.0 157.0ZM574.0 157.0 768.0 157.0 768.0 377.5 677.0 372.6 672.0 370.5 662.0 364.2 658.0 362.4 652.0 361.2 643.0 361.0 639.0 359.8 636.0 357.2 632.0 350.2 629.0 346.4 618.0 337.0 615.0 332.7 612.5 327.0 610.1 316.0 609.9 307.0 611.5 273.0 610.6 259.0 610.9 232.0 609.4 217.0 607.6 212.0 596.0 189.3 581.6 169.0 574.0 157.0ZM574.0 423.0 579.0 423.3 586.0 426.2 589.0 429.1 591.4 434.0 592.5 439.0 592.6 447.0 590.7 472.0 462.7 472.0 465.0 463.0 468.3 458.0 477.0 449.8 494.0 436.9 519.0 429.3 532.0 428.6 554.0 429.7 559.0 428.5 574.0 423.0Z"/>
<path fill-rule="evenodd" fill="#ffdd00" d="M137.0 157.0 450.8 157.0 441.6 179.0 430.0 197.7 427.0 203.6 424.2 212.0 423.0 221.0 423.7 232.0 426.7 243.0 429.4 249.0 438.5 265.0 445.5 280.0 449.2 289.0 451.2 297.0 451.7 306.0 450.2 321.0 447.8 329.0 442.5 340.0 438.0 345.9 432.0 350.1 404.0 360.8 371.0 377.7 364.0 379.7 348.0 382.0 341.0 382.4 330.0 380.7 323.0 380.4 291.0 381.4 215.0 380.1 136.0 376.8 136.0 157.0 137.0 157.0ZM588.0 157.0 768.0 157.0 768.0 375.8 717.0 373.1 698.0 371.1 680.0 370.2 674.0 368.2 665.0 361.7 661.0 359.7 656.0 358.7 644.0 358.1 641.0 357.0 638.7 355.0 631.0 340.7 618.0 328.9 615.0 324.5 613.3 320.0 612.5 312.0 614.3 285.0 614.2 258.0 614.9 233.0 614.0 216.0 610.8 205.0 600.0 181.1 587.5 157.0 588.0 157.0ZM572.0 428.0 577.0 427.4 582.1 429.0 586.0 432.1 588.8 437.0 589.9 442.0 590.2 448.0 588.5 472.0 464.5 472.0 466.6 463.0 470.0 458.0 478.0 451.5 488.0 446.5 494.4 440.0 499.0 437.3 522.0 430.9 533.0 430.4 551.0 432.9 556.0 433.1 561.3 432.0 572.0 428.0Z"/>
<path fill-rule="evenodd" fill="#ffcf00" d="M137.0 157.0 438.3 157.0 431.7 176.0 422.2 192.0 419.4 198.0 417.0 208.0 416.2 219.0 417.5 231.0 421.9 246.0 424.9 252.0 433.0 265.0 443.0 284.6 446.0 291.3 447.6 297.0 448.3 306.0 447.3 320.0 444.2 330.0 439.5 340.0 436.0 344.4 431.0 347.6 405.7 357.0 370.0 374.5 363.0 376.6 346.0 379.4 341.0 379.6 332.0 378.4 325.0 378.2 290.0 380.0 214.0 378.4 136.0 375.3 136.0 157.0 137.0 157.0ZM598.0 157.0 768.0 157.0 768.0 374.3 719.0 371.1 699.0 368.5 681.0 367.5 675.0 365.4 667.4 359.0 664.0 357.0 659.0 356.0 646.0 356.1 643.0 355.0 640.7 353.0 639.1 350.0 636.4 340.0 634.5 336.0 631.4 333.0 620.0 325.7 617.0 322.2 615.3 318.0 614.9 312.0 617.1 286.0 617.3 260.0 618.5 228.0 618.0 213.0 616.0 204.0 598.0 157.0ZM530.0 432.0 536.0 432.7 556.0 436.8 562.0 436.1 575.0 432.4 579.0 432.8 582.0 434.2 584.0 436.0 585.9 439.0 587.5 445.0 587.8 451.0 586.5 472.0 466.2 472.0 468.1 463.0 470.7 459.0 479.0 453.1 491.0 448.5 496.2 442.0 498.5 440.0 503.0 437.9 519.0 433.5 530.0 432.0Z"/>
<path fill-rule="evenodd" fill="#ffc000" d="M137.0 157.0 427.5 157.0 423.7 173.0 421.1 178.0 414.4 188.0 412.0 194.0 410.6 203.0 410.4 220.0 413.0 233.3 419.0 251.7 427.9 266.0 441.0 289.6 443.9 297.0 444.9 305.0 444.5 319.0 440.3 332.0 437.0 339.2 434.9 342.0 431.0 344.6 406.4 354.0 367.0 372.1 362.0 373.6 344.0 376.4 329.0 375.9 290.0 378.5 214.0 376.7 136.0 373.8 136.0 157.0 137.0 157.0ZM607.0 157.0 768.0 157.0 768.0 372.9 720.0 369.0 700.0 365.8 681.0 364.4 677.0 363.0 670.0 356.1 665.0 353.4 661.0 353.0 649.0 354.0 646.0 353.7 643.4 352.0 642.0 349.2 640.6 337.0 639.0 332.0 635.2 329.0 622.0 322.9 619.0 320.3 617.8 318.0 617.4 314.0 619.8 287.0 620.2 263.0 622.2 223.0 622.2 208.0 621.2 203.0 615.7 189.0 607.0 157.0ZM527.0 433.9 534.0 434.2 556.0 440.2 563.0 439.8 576.0 437.4 579.0 437.8 581.0 438.8 584.0 442.7 585.2 448.0 584.6 472.0 467.9 472.0 470.0 462.0 472.0 459.6 476.0 456.7 481.0 454.0 490.0 451.7 493.0 450.3 498.5 443.0 502.0 440.4 510.0 437.9 527.0 433.9Z"/>
<path fill-rule="evenodd" fill="#ffaf00" d="M137.0 157.0 417.9 157.0 416.3 170.0 407.0 184.6 405.3 189.0 404.2 199.0 405.5 221.0 406.7 227.0 414.0 250.6 420.2 266.0 421.8 269.0 426.8 275.0 437.0 291.7 440.0 299.0 441.1 305.0 441.5 318.0 437.5 330.0 434.0 338.0 432.0 340.2 429.0 341.8 364.0 369.8 343.0 373.0 332.0 373.3 291.0 377.1 213.0 375.0 136.0 372.1 136.0 157.0 137.0 157.0ZM615.0 157.0 768.0 157.0 768.0 371.6 722.0 367.2 714.0 365.8 686.0 359.6 681.0 357.8 676.6 355.0 666.0 350.2 650.0 351.1 647.0 350.6 646.0 349.7 645.2 347.0 644.0 331.0 643.0 327.9 640.0 325.9 624.0 319.7 621.0 317.5 620.3 312.0 622.5 286.0 623.3 262.0 627.1 204.0 626.5 201.0 621.6 190.0 614.3 157.0 615.0 157.0ZM527.0 436.0 533.0 436.1 555.0 442.9 576.0 442.4 579.2 443.0 581.0 445.0 582.4 449.0 582.8 472.0 469.8 472.0 471.3 463.0 472.6 461.0 476.8 458.0 482.0 455.3 494.0 452.0 496.2 450.0 500.8 444.0 503.0 442.4 510.5 440.0 527.0 436.0Z"/>
<path fill-rule="evenodd" fill="#ff9e00" d="M137.0 157.0 410.0 157.0 407.5 168.0 400.7 182.0 398.8 189.0 398.4 198.0 400.4 216.0 402.5 227.0 416.4 269.0 418.0 272.0 423.5 279.0 432.1 293.0 436.1 303.0 437.4 311.0 437.4 318.0 435.0 326.1 431.5 334.0 429.0 337.0 426.0 339.0 402.0 351.5 390.0 356.1 378.0 359.7 363.0 366.9 345.0 369.8 291.0 375.6 214.0 373.5 136.0 370.4 136.0 157.0 137.0 157.0ZM621.0 157.0 768.0 157.0 768.0 370.4 718.0 364.7 690.0 358.1 686.0 356.4 677.0 350.9 669.0 348.1 665.0 347.6 655.0 347.9 651.0 347.1 649.6 346.0 648.3 343.0 647.1 329.0 645.6 325.0 642.0 322.3 629.7 318.0 625.0 315.0 623.6 311.0 623.6 302.0 626.4 273.0 627.8 246.0 631.9 203.0 631.1 198.0 626.9 185.0 621.0 157.0ZM525.0 438.9 529.0 438.2 532.0 438.5 553.7 445.0 569.3 446.0 576.0 447.6 578.0 449.4 579.4 453.0 581.3 472.0 471.8 472.0 472.4 466.0 473.5 463.0 479.7 458.0 483.0 456.4 495.0 453.1 502.0 446.4 505.0 444.4 525.0 438.9Z"/>
<path fill-rule="evenodd" fill="#ff9000" d="M137.0 157.0 402.8 157.0 400.3 166.0 393.6 185.0 392.9 193.0 393.7 202.0 398.3 226.0 413.3 269.0 415.6 274.0 428.0 295.0 431.8 305.0 433.1 312.0 433.0 318.0 430.9 326.0 428.2 332.0 423.0 337.3 405.0 348.4 395.0 351.9 378.0 356.2 361.0 364.5 344.0 367.6 297.0 373.7 290.0 374.2 216.0 372.1 136.0 368.5 136.0 157.0 137.0 157.0ZM627.0 157.0 768.0 157.0 768.0 369.1 726.0 364.2 715.0 362.4 690.0 356.7 686.6 355.0 679.0 348.7 675.0 346.9 668.0 345.5 658.0 345.4 654.0 344.5 652.0 343.0 650.5 340.0 649.7 327.0 647.6 322.0 643.3 319.0 631.8 315.0 627.9 312.0 626.1 307.0 626.0 300.0 629.1 275.0 632.0 240.0 636.6 202.0 635.5 193.0 627.0 157.0ZM525.0 441.9 529.0 441.3 533.0 441.7 552.0 446.7 566.0 448.3 572.0 450.1 575.0 452.6 577.0 456.3 578.6 462.0 579.8 472.0 474.0 472.0 474.5 467.0 475.5 464.0 481.0 458.9 484.0 457.5 495.8 454.0 507.0 446.5 515.0 444.0 525.0 441.9Z"/>
<path fill-rule="evenodd" fill="#ff8300" d="M137.0 157.0 396.1 157.0 388.1 184.0 387.6 191.0 388.5 199.0 393.2 222.0 402.1 248.0 412.1 273.0 423.6 296.0 426.9 305.0 428.3 312.0 428.3 318.0 427.0 325.0 424.5 331.0 420.1 336.0 404.0 347.1 398.0 349.0 378.0 352.5 364.3 360.0 359.4 362.0 342.0 365.9 330.0 367.1 295.0 372.5 290.0 372.7 215.0 370.7 136.0 366.7 136.0 157.0 137.0 157.0ZM633.0 157.0 768.0 157.0 768.0 367.8 722.0 362.1 693.0 356.4 687.4 354.0 681.0 346.9 678.0 344.9 671.0 343.4 659.0 343.1 656.0 342.3 654.0 340.7 652.7 338.0 652.3 325.0 651.6 322.0 650.0 319.1 645.2 316.0 634.0 312.2 630.0 308.9 628.5 305.0 628.4 300.0 631.1 282.0 635.9 238.0 640.6 207.0 641.3 198.0 640.4 188.0 633.0 157.0ZM525.0 445.0 531.0 444.6 536.0 445.0 552.0 448.7 565.0 450.5 569.0 452.0 572.7 455.0 575.7 460.0 577.1 464.0 578.3 472.0 476.6 472.0 477.2 467.0 478.4 464.0 480.8 461.0 483.0 459.4 496.0 455.2 509.0 448.5 518.0 445.9 525.0 445.0Z"/>
<path fill-rule="evenodd" fill="#ff7700" d="M137.0 157.0 389.8 157.0 387.2 168.0 382.9 182.0 382.3 188.0 382.8 194.0 390.2 225.0 399.8 252.0 405.0 262.6 421.4 303.0 423.0 311.0 423.4 317.0 422.1 326.0 420.4 331.0 418.0 334.0 409.9 341.0 402.0 346.0 377.0 348.7 373.0 350.4 361.0 358.1 343.0 363.6 294.0 371.0 215.0 369.3 136.0 364.9 136.0 157.0 137.0 157.0ZM639.0 157.0 768.0 157.0 768.0 366.4 723.0 360.6 693.0 355.2 688.3 353.0 683.0 345.0 680.0 342.5 674.0 341.3 658.0 340.3 656.0 338.9 654.9 336.0 655.0 323.0 653.6 317.0 649.0 313.8 635.0 308.8 632.0 306.1 631.0 303.0 631.2 299.0 646.3 193.0 645.7 187.0 638.5 157.0 639.0 157.0ZM527.0 447.9 537.0 447.7 566.0 453.2 569.8 456.0 574.0 461.4 575.6 465.0 577.0 472.0 479.5 472.0 481.1 464.0 482.3 462.0 484.8 460.0 496.0 456.4 510.0 450.6 519.0 448.2 527.0 447.9Z"/>
<path fill-rule="evenodd" fill="#ff6a00" d="M137.0 157.0 383.9 157.0 381.6 168.0 377.8 180.0 377.6 192.0 385.7 224.0 392.5 241.0 397.1 256.0 401.5 267.0 405.0 272.6 408.0 279.0 416.4 302.0 418.2 316.0 416.5 329.0 415.7 331.0 407.2 340.0 402.0 343.1 383.0 343.9 374.0 344.9 369.5 347.0 359.0 353.5 345.7 360.0 341.0 361.7 294.0 369.4 215.0 368.0 136.0 363.3 136.0 157.0 137.0 157.0ZM644.0 157.0 768.0 157.0 768.0 364.6 723.2 359.0 691.0 353.1 688.7 351.0 684.5 342.0 682.4 340.0 679.0 339.2 662.0 338.1 658.7 337.0 657.7 334.0 657.7 318.0 656.7 314.0 653.9 312.0 638.3 306.0 635.0 303.9 634.3 302.0 634.3 299.0 638.0 268.0 651.2 191.0 650.6 186.0 644.0 157.0ZM533.0 450.0 540.0 450.3 565.0 455.2 568.4 458.0 573.0 463.4 575.6 472.0 482.4 472.0 483.7 464.0 484.9 462.0 487.0 460.8 511.0 452.4 520.0 450.6 533.0 450.0Z"/>
<path fill-rule="evenodd" fill="#ff5a00" d="M137.0 157.0 378.2 157.0 372.9 179.0 372.6 185.0 373.3 192.0 381.3 223.0 389.4 244.0 395.9 267.0 397.7 271.0 402.4 277.0 405.0 281.8 411.3 301.0 412.6 309.0 412.7 317.0 411.0 327.5 409.2 332.0 405.0 336.6 401.0 338.4 392.0 339.9 375.0 341.1 368.1 343.0 356.1 349.0 344.0 357.1 339.0 359.6 328.0 362.1 294.0 367.7 215.0 366.6 136.0 361.9 136.0 157.0 137.0 157.0ZM649.0 157.0 768.0 157.0 768.0 362.5 726.0 357.6 693.0 352.0 690.6 350.0 687.1 341.0 684.0 337.8 680.0 336.8 667.0 336.0 662.0 334.1 660.3 330.0 660.3 316.0 659.0 311.8 656.0 309.2 642.2 303.0 639.1 300.0 638.3 297.0 638.2 292.0 640.2 270.0 649.3 219.0 655.3 191.0 654.7 183.0 649.0 157.0ZM535.0 451.9 542.0 452.5 560.0 455.8 564.0 457.1 567.0 459.4 571.2 464.0 572.8 467.0 574.4 472.0 485.0 472.0 486.7 464.0 488.0 462.6 491.0 461.0 507.0 455.5 515.0 453.4 535.0 451.9Z"/>
<path fill-rule="evenodd" fill="#ff4600" d="M137.0 157.0 372.7 157.0 368.3 177.0 368.1 183.0 369.0 191.0 378.1 226.0 386.0 246.5 393.1 269.0 401.5 284.0 405.8 298.0 407.5 307.0 407.7 315.0 406.4 324.0 404.0 329.8 400.6 333.0 395.0 335.2 388.0 336.7 373.0 338.4 367.0 340.0 355.0 346.0 340.2 356.0 333.5 359.0 326.0 360.9 294.0 365.9 215.0 365.3 136.0 360.6 136.0 157.0 137.0 157.0ZM654.0 157.0 768.0 157.0 768.0 360.7 724.0 355.3 698.6 351.0 695.0 349.9 692.9 348.0 688.9 339.0 685.5 336.0 681.0 334.5 669.0 333.8 664.8 332.0 663.3 330.0 662.5 327.0 662.5 315.0 661.0 310.0 657.0 306.2 646.0 300.5 642.9 297.0 641.8 294.0 641.4 289.0 642.6 270.0 652.7 218.0 658.4 195.0 659.3 189.0 658.9 181.0 654.0 157.0ZM534.0 454.0 542.0 454.3 563.0 458.8 566.0 460.9 569.8 465.0 573.2 472.0 487.4 472.0 489.4 465.0 491.7 463.0 496.0 461.0 516.0 454.8 534.0 454.0Z"/>
<path fill-rule="evenodd" fill="#ff3200" d="M137.0 157.0 367.3 157.0 363.5 176.0 363.4 181.0 364.6 189.0 374.4 227.0 389.8 269.0 397.1 284.0 399.8 292.0 402.2 303.0 402.8 311.0 401.8 320.0 399.4 326.0 396.0 329.5 390.0 332.4 382.0 334.4 370.0 336.0 365.0 337.7 351.5 345.0 337.0 355.0 331.0 357.9 325.0 359.4 296.0 363.7 291.0 364.2 280.0 363.5 215.0 364.0 136.0 359.3 136.0 157.0 137.0 157.0ZM659.0 157.0 768.0 157.0 768.0 359.0 723.0 352.9 698.7 347.0 696.3 345.0 691.7 338.0 686.6 334.0 681.0 332.2 671.0 331.7 666.9 330.0 664.7 326.0 664.7 314.0 663.1 308.0 659.2 304.0 649.0 297.8 646.0 294.2 644.9 291.0 644.4 287.0 645.0 270.0 649.0 253.0 656.0 217.0 662.0 195.0 663.4 188.0 663.1 180.0 659.0 157.0ZM519.0 456.0 527.0 456.5 540.0 455.6 561.0 459.9 564.0 461.4 567.0 464.1 570.0 467.9 571.9 472.0 489.9 472.0 491.7 467.0 495.0 463.9 504.0 460.0 513.6 457.0 519.0 456.0Z"/>
<path fill-rule="evenodd" fill="#ff1e00" d="M137.0 157.0 362.2 157.0 358.8 174.0 358.7 181.0 370.0 226.0 378.9 250.0 394.8 289.0 397.6 303.0 398.0 309.0 396.5 318.0 394.0 324.0 390.0 327.7 383.0 331.0 370.0 332.8 365.0 334.5 349.0 343.8 334.4 354.0 330.0 356.4 325.0 357.7 299.0 361.5 291.0 362.2 281.0 361.6 215.0 362.6 136.0 357.9 136.0 157.0 137.0 157.0ZM664.0 157.0 768.0 157.0 768.0 357.3 720.8 350.0 702.0 341.5 691.3 334.0 686.0 331.2 681.0 329.8 672.0 329.2 669.0 328.1 667.0 325.0 667.0 312.0 665.6 306.0 662.0 302.2 651.6 295.0 649.0 291.9 647.6 286.0 647.5 270.0 651.1 256.0 659.0 217.0 667.7 187.0 667.7 182.0 663.5 157.0 664.0 157.0ZM517.0 457.9 520.0 457.6 527.0 458.5 540.0 457.2 560.0 461.3 563.0 462.6 565.0 464.2 568.4 468.0 570.7 472.0 492.7 472.0 495.0 467.8 500.3 464.0 505.0 461.8 517.0 457.9Z"/>
<path fill-rule="evenodd" fill="#ff0a00" d="M137.0 157.0 357.2 157.0 353.9 175.0 354.0 181.0 356.6 189.0 366.1 226.0 376.0 252.8 386.7 277.0 391.1 289.0 393.4 308.0 391.0 317.0 388.9 322.0 385.0 325.5 380.0 328.3 369.0 329.6 365.0 331.0 329.0 354.8 324.1 356.0 300.0 359.5 291.0 360.2 282.0 359.8 215.0 361.2 136.0 356.5 136.0 157.0 137.0 157.0ZM669.0 157.0 768.0 157.0 768.0 355.6 722.0 347.7 701.0 335.6 689.0 330.0 683.0 327.8 671.0 325.5 670.0 324.3 669.6 322.0 669.7 308.0 669.0 304.0 666.2 301.0 654.2 292.0 652.0 289.3 650.6 280.0 650.7 270.0 661.9 218.0 672.1 186.0 671.9 181.0 668.1 157.0 669.0 157.0ZM536.0 459.0 542.0 459.0 561.0 463.2 565.0 466.1 569.4 472.0 496.0 472.0 501.1 467.0 507.0 463.6 518.0 460.6 525.0 460.8 536.0 459.0Z"/>
<path fill-rule="evenodd" fill="#ff0808" d="M137.0 157.0 352.4 157.0 349.6 174.0 350.2 182.0 353.8 193.0 362.7 227.0 373.0 254.6 383.8 278.0 387.6 289.0 388.8 299.0 388.9 306.0 387.5 312.0 384.8 318.0 382.0 321.4 378.1 324.0 367.0 326.4 363.0 328.3 340.0 345.4 328.0 352.9 323.8 354.0 299.0 357.8 215.0 359.8 136.0 354.9 136.0 157.0 137.0 157.0ZM673.0 157.0 768.0 157.0 768.0 353.9 723.0 345.2 712.0 339.5 699.3 331.0 675.2 323.0 673.4 321.0 672.8 319.0 673.0 305.0 672.0 301.2 669.1 298.0 659.0 290.5 656.0 286.9 654.3 281.0 654.0 274.0 657.1 254.0 665.0 219.0 676.0 186.0 676.0 179.0 673.0 157.0ZM535.0 460.9 539.0 460.3 543.0 460.6 560.0 464.3 564.0 466.9 568.0 472.0 500.5 472.0 505.0 468.2 508.0 466.7 535.0 460.9Z"/>
<path fill-rule="evenodd" fill="#ff1919" d="M137.0 157.0 347.7 157.0 345.6 171.0 345.8 179.0 351.1 197.0 356.8 220.0 370.0 255.8 380.2 277.0 384.1 288.0 385.1 295.0 385.2 303.0 384.2 308.0 381.9 313.0 379.0 316.7 376.0 319.0 365.0 323.3 361.0 325.5 341.9 342.0 330.0 349.4 323.0 351.9 297.0 356.2 215.0 358.4 136.0 353.2 136.0 157.0 137.0 157.0ZM678.0 157.0 768.0 157.0 768.0 352.2 724.0 343.0 711.9 337.0 701.0 328.1 684.0 323.3 679.0 321.2 676.8 319.0 675.8 316.0 676.6 304.0 675.6 299.0 672.4 295.0 662.0 287.4 658.9 283.0 657.6 278.0 657.3 272.0 660.6 251.0 667.6 222.0 678.2 192.0 680.0 185.0 680.2 178.0 677.5 157.0 678.0 157.0ZM538.0 462.0 545.0 462.2 560.0 465.7 563.5 468.0 566.6 472.0 505.6 472.0 511.7 469.0 538.0 462.0Z"/>
<path fill-rule="evenodd" fill="#ff2a2a" d="M137.0 157.0 343.1 157.0 341.3 170.0 341.7 178.0 347.6 198.0 353.1 220.0 367.2 257.0 376.3 275.0 380.7 287.0 381.6 293.0 381.8 300.0 380.9 305.0 379.0 309.0 376.6 312.0 373.0 314.9 358.0 323.3 347.3 335.0 336.0 344.1 324.0 349.1 295.0 354.8 215.0 356.9 136.0 351.4 136.0 157.0 137.0 157.0ZM683.0 157.0 768.0 157.0 768.0 350.4 725.0 340.8 712.0 334.8 705.0 326.7 702.6 325.0 699.0 323.8 687.0 321.7 682.0 319.6 679.6 317.0 678.9 314.0 680.4 302.0 679.3 296.0 675.7 292.0 665.0 284.3 661.9 280.0 660.8 276.0 660.7 271.0 663.6 250.0 669.7 226.0 681.5 193.0 684.0 184.0 684.5 176.0 682.1 157.0 683.0 157.0ZM537.0 463.9 544.0 463.4 558.0 466.5 562.0 468.3 565.2 472.0 512.4 472.0 523.0 468.0 537.0 463.9Z"/>
<path fill-rule="evenodd" fill="#ff3a3a" d="M137.0 157.0 338.6 157.0 337.0 170.0 338.1 180.0 343.6 197.0 350.8 224.0 365.0 259.6 373.1 274.0 377.0 285.0 378.2 290.0 378.4 297.0 377.9 302.0 376.7 305.0 371.0 310.6 355.2 321.0 346.4 333.0 336.0 342.2 325.0 346.3 302.0 350.8 294.0 353.2 215.0 355.4 136.0 349.5 136.0 157.0 137.0 157.0ZM687.0 157.0 768.0 157.0 768.0 348.6 732.0 340.6 725.0 338.4 716.0 334.9 712.8 333.0 710.4 330.0 707.4 324.0 705.0 322.2 700.0 320.9 688.0 319.3 684.6 318.0 682.8 316.0 682.1 313.0 684.0 300.0 683.4 294.0 679.9 290.0 667.7 281.0 665.0 277.3 664.2 274.0 664.2 270.0 665.4 256.0 666.5 250.0 672.2 228.0 685.0 193.2 688.6 181.0 688.9 176.0 687.0 157.0ZM540.0 465.0 545.0 464.8 558.0 467.8 561.0 469.1 563.8 472.0 518.9 472.0 526.0 469.1 540.0 465.0Z"/>
<path fill-rule="evenodd" fill="#ff4b4b" d="M137.0 157.0 334.1 157.0 332.7 169.0 333.6 179.0 339.5 196.0 347.2 224.0 355.2 242.0 362.4 261.0 366.0 268.0 370.1 274.0 372.4 280.0 375.1 290.0 374.8 298.0 373.9 302.0 371.3 305.0 365.2 310.0 353.0 318.6 345.0 331.3 336.0 340.2 327.0 343.4 301.0 348.6 293.0 351.0 282.0 352.3 215.0 354.0 136.0 347.6 136.0 157.0 137.0 157.0ZM692.0 157.0 768.0 157.0 768.0 346.7 731.0 338.1 719.4 334.0 713.8 331.0 710.1 322.0 708.2 320.0 690.0 316.6 687.0 315.4 686.0 314.0 685.8 312.0 687.2 296.0 686.9 292.0 684.6 289.0 670.3 277.0 668.9 275.0 668.1 270.0 668.5 255.0 673.8 233.0 693.1 180.0 693.2 175.0 691.2 157.0 692.0 157.0ZM540.0 466.8 545.0 466.4 556.0 468.8 560.0 470.1 562.1 472.0 524.5 472.0 540.0 466.8Z"/>
<path fill-rule="evenodd" fill="#ff5c5c" d="M137.0 157.0 329.6 157.0 328.4 170.0 329.7 180.0 335.6 197.0 344.3 225.0 352.9 244.0 360.0 262.0 363.9 270.0 368.0 276.0 369.6 280.0 371.5 287.0 372.0 291.0 371.4 297.0 370.0 300.5 364.8 306.0 351.0 316.6 343.1 330.0 335.0 338.3 327.0 341.2 301.0 346.2 286.0 350.3 215.0 352.5 136.0 345.8 136.0 157.0 137.0 157.0ZM696.0 157.0 768.0 157.0 768.0 344.7 733.0 336.4 722.0 332.7 718.4 331.0 715.9 329.0 712.5 321.0 710.0 318.2 707.0 317.1 695.2 315.0 691.0 313.2 689.4 311.0 688.8 308.0 689.7 294.0 689.0 289.8 686.0 285.5 675.3 275.0 673.0 271.1 671.8 264.0 671.7 255.0 676.7 233.0 697.1 179.0 697.5 173.0 695.5 157.0 696.0 157.0ZM540.0 468.9 544.0 468.2 547.0 468.5 556.0 470.5 559.7 472.0 531.0 472.0 540.0 468.9Z"/>
<path fill-rule="evenodd" fill="#ff7070" d="M137.0 157.0 325.1 157.0 324.1 171.0 326.1 182.0 341.0 225.0 357.2 262.0 367.1 281.0 368.4 286.0 368.9 291.0 368.4 295.0 366.8 299.0 362.3 304.0 350.0 313.5 340.9 329.0 336.5 334.0 333.0 336.8 326.0 339.2 299.0 344.3 284.0 348.7 254.0 350.2 215.0 351.1 136.0 344.0 136.0 157.0 137.0 157.0ZM700.0 157.0 768.0 157.0 768.0 342.6 738.0 335.5 724.0 331.1 720.1 329.0 718.0 327.0 714.5 320.0 711.8 317.0 708.0 315.3 697.0 313.1 693.1 311.0 691.7 309.0 691.0 306.0 691.9 293.0 691.0 287.9 688.2 283.0 679.1 273.0 676.5 268.0 675.1 261.0 675.1 254.0 679.9 232.0 699.2 184.0 701.1 178.0 701.7 171.0 700.0 157.0ZM542.0 470.9 547.0 470.6 554.4 472.0 538.0 472.0 542.0 470.9Z"/>
<path fill-rule="evenodd" fill="#ff8787" d="M137.0 157.0 320.6 157.0 319.9 171.0 322.5 184.0 336.8 223.0 353.4 260.0 364.1 281.0 365.4 286.0 365.7 291.0 365.0 295.0 363.5 298.0 360.0 301.9 351.4 308.0 348.2 311.0 340.0 325.9 335.9 331.0 332.0 334.4 325.0 337.1 300.0 341.6 283.0 347.0 254.0 348.8 215.0 349.6 171.0 346.0 136.0 342.1 136.0 157.0 137.0 157.0ZM704.0 157.0 768.0 157.0 768.0 340.4 740.4 334.0 725.0 329.0 720.6 326.0 715.8 318.0 713.0 315.3 709.0 313.5 697.7 311.0 695.0 309.3 693.5 307.0 693.0 303.0 694.0 292.0 693.2 286.0 691.0 281.1 684.0 273.0 680.9 268.0 678.7 261.0 678.3 254.0 681.9 236.0 684.1 228.0 692.4 209.0 705.0 177.0 705.6 171.0 703.5 157.0 704.0 157.0Z"/>
<path fill-rule="evenodd" fill="#ff9e9e" d="M137.0 157.0 316.2 157.0 315.4 170.0 319.2 186.0 331.7 220.0 350.0 260.0 356.3 271.0 361.1 281.0 362.4 289.0 362.0 293.0 360.9 296.0 358.0 299.3 349.6 305.0 346.0 308.4 344.0 311.6 341.1 319.0 339.0 322.7 334.0 328.8 330.0 332.3 324.0 334.8 300.0 339.0 282.0 345.2 253.0 347.3 215.0 348.1 171.0 344.4 136.0 340.2 136.0 157.0 137.0 157.0ZM707.0 157.0 768.0 157.0 768.0 338.1 741.3 332.0 726.4 327.0 722.3 324.0 718.0 317.0 715.0 313.9 710.0 311.7 699.0 309.1 697.0 307.9 695.6 306.0 695.2 303.0 696.2 290.0 695.7 283.0 693.9 279.0 687.2 271.0 684.8 267.0 682.2 259.0 681.8 253.0 686.7 229.0 695.4 210.0 708.8 176.0 709.0 171.0 707.0 157.0Z"/>
<path fill-rule="evenodd" fill="#ffffff" d="M137.0 157.0 311.6 157.0 310.9 169.0 314.8 184.0 327.8 220.0 337.0 238.7 346.3 261.0 354.0 273.2 357.6 281.0 358.5 284.0 358.6 288.0 358.0 293.0 357.1 295.0 347.0 302.2 343.1 306.0 341.2 309.0 338.0 319.0 331.3 327.0 327.0 330.6 323.0 332.1 301.0 336.0 281.0 343.3 253.0 345.6 215.0 346.5 171.0 342.9 136.0 338.2 136.0 157.0 137.0 157.0ZM711.0 157.0 768.0 157.0 768.0 335.7 742.0 329.8 728.0 324.8 724.2 322.0 719.7 315.0 717.0 312.0 713.0 310.3 701.0 306.9 699.0 305.9 698.0 304.3 699.2 280.0 689.2 267.0 686.0 258.0 685.5 253.0 689.5 230.0 698.5 211.0 711.6 177.0 712.0 172.6 710.2 157.0 711.0 157.0Z"/>
<g mask="url(#lm)"><path fill="none" stroke="#000" stroke-width="2" stroke-dasharray="5 4" d="M259.3 472.0 255.0 465.0 255.4 463.0 257.6 459.0 257.0 456.9 255.6 456.0 232.0 451.3 212.0 449.8 195.0 450.4 190.0 452.1 187.0 454.0 180.5 463.0 172.2 472.0"/>
<path fill="none" stroke="#000" stroke-width="1" stroke-dasharray="5 4" d="M282.7 472.0 282.5 464.0 284.8 458.0 284.3 456.0 282.0 453.9 267.0 450.1 240.0 445.9 217.0 443.9 174.0 444.8 165.0 446.8 161.0 450.0 148.7 463.0 141.9 472.0"/>
<path fill="none" stroke="#000" stroke-width="2" stroke-dasharray="5 4" d="M768.0 458.5 765.0 462.1 758.8 472.0M303.7 472.0 300.8 467.0 300.1 464.0 301.0 460.4 304.9 455.0 303.7 453.0 291.7 448.0 261.0 441.8 246.0 440.1 212.0 438.4 156.0 439.4 150.0 441.1 146.6 443.0 136.0 456.6"/>
<path fill="none" stroke="#000" stroke-width="1" stroke-dasharray="5 4" d="M768.0 441.2 744.0 459.0 743.0 461.1 743.3 472.0M320.8 472.0 317.2 462.0 318.7 458.0 322.8 453.0 321.8 451.0 316.0 448.3 305.0 446.0 286.0 439.5 273.0 436.5 262.0 434.6 245.0 433.3 161.0 434.1 142.0 434.7 136.0 435.6"/>
<path fill="none" stroke="#000" stroke-width="2" stroke-dasharray="5 4" d="M768.0 426.3 764.0 428.2 753.0 436.0 740.0 442.6 722.0 453.2 718.5 457.0 716.8 460.0 717.5 472.0M336.2 472.0 336.7 469.0 336.5 459.0 339.7 449.0 338.6 447.0 332.0 444.3 315.0 441.0 298.0 434.4 295.0 431.0 292.7 430.0 281.0 429.8 262.0 426.7 136.0 427.3"/>
<path fill="none" stroke="#000" stroke-width="1" stroke-dasharray="5 4" d="M768.0 420.1 740.0 428.7 706.3 452.0 704.4 454.0 703.3 457.0 701.5 472.0M349.7 472.0 353.6 466.0 351.7 456.0 352.1 454.0 356.2 446.0 356.0 443.9 354.6 442.0 351.0 440.9 339.6 440.0 331.0 437.7 316.0 431.9 301.0 428.1 298.8 427.0 295.0 423.4 293.0 422.6 276.0 422.5 259.0 421.4 136.0 420.9"/>
<path fill="none" stroke="#000" stroke-width="2" stroke-dasharray="5 4" d="M768.0 414.0 756.0 415.2 736.0 421.2 693.0 442.7 689.9 446.0 688.5 449.0 685.1 472.0M367.1 472.0 369.0 464.0 368.2 460.0 365.5 452.0 366.0 449.9 370.0 442.0 370.3 440.0 369.7 438.0 367.4 437.0 348.7 435.0 335.0 429.1 321.0 424.7 303.0 421.1 293.0 417.2 257.0 414.7 207.0 413.8 136.0 413.8"/>
<path fill="none" stroke="#000" stroke-width="1" stroke-dasharray="5 4" d="M768.0 407.3 736.0 411.0 719.0 418.5 695.0 423.5 681.0 427.7 678.5 429.0 675.0 433.5 668.0 446.0 667.4 451.0 667.4 472.0M380.0 472.0 384.0 464.6 389.0 458.9 390.9 455.0 389.8 453.0 385.9 450.0 384.0 445.0 384.1 441.0 387.9 434.0 387.0 431.8 386.0 431.4 363.0 430.1 355.0 428.2 335.0 421.1 318.0 416.8 302.0 414.0 294.0 411.2 290.0 410.7 263.0 409.1 206.0 407.9 136.0 407.8"/>
<path fill="none" stroke="#000" stroke-width="2" d="M768.0 400.5 727.0 402.3 721.0 403.3 695.0 409.1 671.3 422.0 666.8 426.0 652.0 444.6 648.1 472.0M393.8 472.0 396.3 469.0 405.0 464.7 407.1 463.0 408.9 456.0 408.5 452.0 406.9 449.0 397.7 441.0 396.3 439.0 396.2 437.0 399.3 424.0 399.0 422.8 397.0 421.5 394.0 421.5 382.0 423.9 374.9 424.0 369.0 421.9 358.0 419.4 337.0 413.2 300.0 406.3 293.0 404.4 272.0 403.1 136.0 400.8"/>
<path fill="none" stroke="#000" stroke-width="1" d="M768.0 394.2 708.0 395.4 681.0 404.1 655.0 411.5 640.0 424.6 636.7 429.0 629.6 447.0 625.8 472.0M438.8 472.0 438.4 463.0 437.0 458.0 423.4 444.0 411.5 435.0 409.3 432.0 408.9 428.0 410.7 420.0 411.5 413.0 411.2 411.0 410.0 410.2 395.0 415.3 379.0 415.5 374.0 414.7 340.0 405.9 312.0 400.7 294.0 398.4 216.0 395.6 136.0 394.2M544.0 279.8 539.0 282.6 526.0 293.7 509.0 315.1 496.0 341.1 493.2 348.0 486.4 375.0 486.9 380.0 488.7 382.0 542.0 395.4 568.0 388.3 573.0 385.1 576.2 381.0 581.0 365.0 579.1 350.0 577.0 346.2 570.0 336.7 560.0 329.4 557.9 327.0 555.3 308.0 549.9 294.0 549.4 283.0 547.0 280.1 544.0 279.8"/>
<path fill="none" stroke="#000" stroke-width="2" d="M768.0 387.4 719.6 384.0 688.0 389.1 664.0 389.8 646.0 387.7 641.0 388.6 630.0 396.1 619.5 411.0 614.5 425.0 608.8 472.0M450.8 472.0 454.0 458.6 464.4 442.0 479.0 425.9 483.0 423.0 489.0 420.3 520.0 413.9 542.0 413.9 563.4 407.0 583.0 404.2 586.3 403.0 589.0 400.7 593.0 388.0 601.0 379.9 601.4 378.0 593.6 332.0 591.3 313.0 583.6 296.0 582.3 290.0 579.4 250.0 578.0 247.5 575.0 246.0 568.0 244.9 551.0 247.7 549.0 247.0 546.0 243.6 545.0 243.2 543.0 243.5 533.0 250.1 520.0 262.0 517.0 263.8 514.0 264.5 511.9 266.0 508.0 270.5 500.4 282.0 495.6 291.0 489.5 320.0 483.2 341.0 479.9 349.0 463.0 419.0 460.9 424.0 458.8 434.0 457.6 437.0 454.0 438.9 448.8 439.0 444.8 437.0 443.0 434.9 439.6 427.0 438.0 425.6 428.0 425.3 425.4 424.0 425.1 422.0 428.7 407.0 427.2 391.0 426.0 389.2 425.0 388.9 411.0 393.4 372.0 402.5 367.8 402.0 343.0 396.0 293.0 390.7 211.0 389.3 136.0 387.0"/>
<path fill="none" stroke="#000" stroke-width="1" d="M487.6 157.0 487.0 168.8 477.9 188.0 473.3 213.0 472.0 216.1 470.0 218.0 467.0 219.5 454.0 219.5 450.0 220.3 444.0 226.8 442.3 230.0 441.8 235.0 442.1 243.0 453.5 271.0 459.7 299.0 455.8 330.0 449.0 344.2 442.0 352.2 435.9 357.0 423.0 365.4 415.0 372.3 412.0 373.2 404.0 372.4 393.0 374.4 386.0 378.5 370.0 385.7 342.0 387.1 320.0 384.3 214.0 383.2 136.0 379.6M768.0 379.7 726.0 376.9 700.0 376.9 678.0 376.2 673.7 375.0 657.0 366.6 653.0 365.5 650.0 365.3 646.7 366.0 638.0 370.1 635.0 370.1 632.5 369.0 630.5 358.0 629.0 353.9 626.0 351.3 610.0 342.0 607.9 340.0 607.1 338.0 607.0 285.0 605.7 263.0 605.7 234.0 605.3 230.0 602.5 219.0 601.0 217.0 592.4 212.0 591.4 209.0 590.1 199.0 589.0 196.5 572.7 181.0 563.0 169.7 556.7 157.0M460.9 472.0 463.4 463.0 465.8 459.0 475.0 449.0 490.0 435.7 495.0 433.9 511.0 429.9 518.0 427.2 554.0 426.2 572.0 419.7 576.0 419.0 588.0 422.5 591.0 424.1 592.8 427.0 595.0 433.2 595.5 441.0 594.4 461.0 593.0 472.0"/>
<path fill="none" stroke="#000" stroke-width="2" d="M417.9 157.0 416.3 170.0 406.8 185.0 405.3 189.0 404.2 198.0 405.2 218.0 406.7 227.0 416.7 258.0 421.2 268.0 427.0 275.3 437.7 293.0 440.0 299.0 441.1 305.0 441.5 318.0 437.5 330.0 434.0 338.0 432.0 340.2 390.0 359.0 379.0 363.0 364.0 369.8 342.0 373.1 331.0 373.3 290.0 377.1 136.0 372.1M768.0 371.6 719.0 366.8 711.0 365.1 685.0 359.3 666.0 350.2 650.0 351.1 647.0 350.6 646.0 349.7 645.2 347.0 644.0 330.8 643.0 327.9 640.0 325.9 624.0 319.7 621.4 318.0 620.4 316.0 620.4 311.0 622.7 283.0 623.3 262.0 627.1 204.0 626.0 199.8 621.9 191.0 614.3 157.0M469.8 472.0 471.3 463.0 473.0 460.7 477.0 457.9 482.0 455.3 494.0 452.0 501.0 443.8 504.0 442.0 512.0 439.6 530.0 435.7 555.0 442.9 576.0 442.4 579.2 443.0 581.0 445.0 582.4 449.0 582.8 472.0"/>
<path fill="none" stroke="#000" stroke-width="1" d="M383.9 157.0 381.9 167.0 377.8 180.0 377.6 192.0 385.4 223.0 392.5 241.0 397.5 257.0 401.5 267.0 405.2 273.0 410.0 284.0 416.4 302.0 417.5 309.0 418.2 317.0 416.2 330.0 414.0 333.1 407.0 340.2 401.0 343.3 383.0 343.9 374.0 344.9 371.0 346.2 360.0 353.0 345.0 360.3 339.8 362.0 293.0 369.5 211.0 367.8 136.0 363.3M768.0 364.6 724.0 359.1 695.0 354.3 690.7 353.0 688.1 350.0 685.0 342.9 683.0 340.3 680.0 339.4 661.3 338.0 658.7 337.0 657.6 333.0 657.6 317.0 656.7 314.0 653.9 312.0 637.0 305.4 635.0 303.9 634.3 300.0 637.7 270.0 651.2 190.0 643.8 157.0M482.4 472.0 484.0 463.4 486.5 461.0 513.0 452.0 520.0 450.6 535.0 449.8 540.0 450.3 565.0 455.2 568.0 457.6 573.3 464.0 575.6 472.0"/>
<path fill="none" stroke="#000" stroke-width="2" d="M357.2 157.0 353.8 176.0 354.0 181.0 356.4 188.0 366.0 225.7 377.3 256.0 387.1 278.0 391.0 288.5 393.4 307.0 390.7 318.0 388.0 323.1 380.0 328.3 368.0 329.8 365.0 331.0 333.0 352.4 328.0 355.2 302.0 359.2 291.0 360.2 280.0 359.8 214.0 361.2 136.0 356.5M768.0 355.6 722.0 347.7 701.0 335.6 688.0 329.6 683.0 327.8 671.0 325.5 669.9 324.0 669.6 322.0 669.7 308.0 669.0 304.0 667.0 301.7 655.0 292.6 651.9 289.0 650.6 279.0 650.9 269.0 662.5 216.0 672.1 186.0 671.9 181.0 668.1 157.0M496.0 472.0 501.1 467.0 504.0 464.9 508.0 463.4 518.0 460.6 526.0 460.7 539.0 458.7 561.0 463.2 564.9 466.0 569.4 472.0"/>
<path fill="none" stroke="#000" stroke-width="1" d="M334.1 157.0 332.7 168.0 333.2 177.0 339.8 197.0 346.9 223.0 355.6 243.0 363.0 262.2 366.0 268.0 370.6 275.0 374.6 287.0 375.2 291.0 374.7 299.0 373.0 303.3 363.9 311.0 353.0 318.6 345.0 331.3 339.6 337.0 334.0 341.2 327.0 343.4 299.4 349.0 293.0 351.0 285.0 352.2 215.0 354.0 136.0 347.6M768.0 346.7 728.0 337.2 722.0 335.0 717.0 333.0 713.8 331.0 710.0 321.8 708.0 319.9 691.0 316.8 687.0 315.4 686.0 314.0 685.8 311.0 687.2 294.0 686.9 292.0 684.6 289.0 670.0 276.7 668.9 275.0 668.1 271.0 668.3 257.0 671.0 244.2 675.0 228.9 691.9 184.0 693.2 179.0 691.2 157.0M524.5 472.0 543.0 466.2 559.0 469.7 562.1 472.0"/>
<path fill="none" stroke="#000" stroke-width="2" d="M311.6 157.0 310.8 167.0 311.5 172.0 314.5 183.0 321.0 201.9 328.0 220.4 336.2 237.0 346.3 261.0 354.4 274.0 358.5 284.0 358.2 292.0 357.0 295.1 347.0 302.2 343.0 306.1 340.8 310.0 338.0 319.0 331.0 327.3 327.0 330.6 324.0 331.9 301.0 336.0 282.0 343.0 253.0 345.6 214.0 346.5 168.0 342.5 136.0 338.2M768.0 335.7 741.0 329.5 727.0 324.3 725.0 322.9 717.0 312.0 712.0 310.0 701.2 307.0 699.0 305.9 697.9 304.0 699.2 280.0 688.8 266.0 686.0 258.0 685.5 253.0 690.0 228.7 698.5 211.0 711.9 176.0 712.0 172.6 710.2 157.0"/></g>
<text transform="translate(304.0 336.6) rotate(-10.8)" x="0" y="6" font-size="17" text-anchor="middle" stroke="#000" stroke-width="0.4">40.0</text>
<text transform="translate(345.8 342.1) rotate(-22.0)" x="0" y="6" font-size="17" text-anchor="middle" stroke="#000" stroke-width="0.4">30.0</text>
<text transform="translate(412.2 349.6) rotate(-19.7)" x="0" y="6" font-size="17" text-anchor="middle" stroke="#000" stroke-width="0.4">20.0</text>
<text transform="translate(395.1 396.1) rotate(-7.9)" x="0" y="6" font-size="17" text-anchor="middle" stroke="#000" stroke-width="0.4">10.0</text>
<text transform="translate(249.0 401.3) rotate(0.0)" x="0" y="6" font-size="17" text-anchor="middle" stroke="#000" stroke-width="0.4">0.00</text>
<text transform="translate(186.9 413.0) rotate(0.0)" x="0" y="6" font-size="17" text-anchor="middle" stroke="#000" stroke-width="0.4">&#8722;10.0</text>
<text transform="translate(598.3 354.9) rotate(75.6)" x="0" y="6" font-size="17" text-anchor="middle" stroke="#000" stroke-width="0.4">10.0</text>
<text transform="translate(701.8 335.4) rotate(22.4)" x="0" y="6" font-size="17" text-anchor="middle" stroke="#000" stroke-width="0.4">30.0</text>
<text transform="translate(695.8 359.7) rotate(10.2)" x="0" y="6" font-size="17" text-anchor="middle" stroke="#000" stroke-width="0.4">20.0</text>
</g>
<rect x="136" y="157" width="632" height="315" fill="none" stroke="#000" stroke-width="2"/>
<path d="M185.4 157V166M185.4 472V463M236.2 157V166M236.2 472V463M286.9 157V166M286.9 472V463M337.7 157V166M337.7 472V463M388.5 157V166M388.5 472V463M439.3 157V166M439.3 472V463M490.1 157V166M490.1 472V463M540.8 157V166M540.8 472V463M591.6 157V166M591.6 472V463M642.4 157V166M642.4 472V463M693.2 157V166M693.2 472V463M744.0 157V166M744.0 472V463M136 395.2H145M768 395.2H759M136 315.2H145M768 315.2H759M136 235.2H145M768 235.2H759" stroke="#000" stroke-width="2"/>
<path d="M160.0 157V161M160.0 472V468M210.8 157V161M210.8 472V468M261.6 157V161M261.6 472V468M312.3 157V161M312.3 472V468M363.1 157V161M363.1 472V468M413.9 157V161M413.9 472V468M464.7 157V161M464.7 472V468M515.5 157V161M515.5 472V468M566.2 157V161M566.2 472V468M617.0 157V161M617.0 472V468M667.8 157V161M667.8 472V468M718.6 157V161M718.6 472V468M136 459.2H140M768 459.2H764M136 443.2H140M768 443.2H764M136 427.2H140M768 427.2H764M136 411.2H140M768 411.2H764M136 379.2H140M768 379.2H764M136 363.2H140M768 363.2H764M136 347.2H140M768 347.2H764M136 331.2H140M768 331.2H764M136 299.2H140M768 299.2H764M136 283.2H140M768 283.2H764M136 267.2H140M768 267.2H764M136 251.2H140M768 251.2H764M136 219.2H140M768 219.2H764M136 203.2H140M768 203.2H764M136 187.2H140M768 187.2H764M136 171.2H140M768 171.2H764" stroke="#000" stroke-width="1"/>
<text x="354.8" y="112.6" font-size="27.0" text-anchor="start" textLength="193.8" lengthAdjust="spacing" stroke="#000" stroke-width="0.15">zonal velocity</text>
<text x="375.9" y="546.9" font-size="21.5" text-anchor="start" textLength="152.4" lengthAdjust="spacing" stroke="#000" stroke-width="0.1">X&#8722;coordinate</text>
<text transform="translate(90.5 391.5) rotate(-90)" x="0" y="0" font-size="21.5" text-anchor="start" textLength="152.6" lengthAdjust="spacing" stroke="#000" stroke-width="0.1">Z&#8722;coordinate</text>
<text x="47.3" y="506.5" font-size="18.5" text-anchor="start" textLength="95.6" lengthAdjust="spacingAndGlyphs" stroke="#000" stroke-width="0.25">(&#215;1000 m)</text>
<text x="684.6" y="517.5" font-size="18.5" text-anchor="start" textLength="95.6" lengthAdjust="spacingAndGlyphs" stroke="#000" stroke-width="0.25">(&#215;1000 m)</text>
<text x="185.8" y="494.8" font-size="18.0" text-anchor="middle" stroke="#000" stroke-width="0.25">4</text>
<text x="236.6" y="494.8" font-size="18.0" text-anchor="middle" stroke="#000" stroke-width="0.25">8</text>
<text x="287.3" y="494.8" font-size="18.0" text-anchor="middle" stroke="#000" stroke-width="0.25">12</text>
<text x="338.1" y="494.8" font-size="18.0" text-anchor="middle" stroke="#000" stroke-width="0.25">16</text>
<text x="388.9" y="494.8" font-size="18.0" text-anchor="middle" stroke="#000" stroke-width="0.25">20</text>
<text x="439.7" y="494.8" font-size="18.0" text-anchor="middle" stroke="#000" stroke-width="0.25">24</text>
<text x="490.5" y="494.8" font-size="18.0" text-anchor="middle" stroke="#000" stroke-width="0.25">28</text>
<text x="541.2" y="494.8" font-size="18.0" text-anchor="middle" stroke="#000" stroke-width="0.25">32</text>
<text x="592.0" y="494.8" font-size="18.0" text-anchor="middle" stroke="#000" stroke-width="0.25">36</text>
<text x="642.8" y="494.8" font-size="18.0" text-anchor="middle" stroke="#000" stroke-width="0.25">40</text>
<text x="693.6" y="494.8" font-size="18.0" text-anchor="middle" stroke="#000" stroke-width="0.25">44</text>
<text x="744.4" y="494.8" font-size="18.0" text-anchor="middle" stroke="#000" stroke-width="0.25">48</text>
<text x="126.5" y="401.2" font-size="19.0" text-anchor="end" stroke="#000" stroke-width="0.25">5</text>
<text x="126.5" y="321.3" font-size="19.0" text-anchor="end" stroke="#000" stroke-width="0.25">10</text>
<text x="126.5" y="240.8" font-size="19.0" text-anchor="end" stroke="#000" stroke-width="0.25">15</text>
<text x="304.9" y="593.0" font-size="18.0" text-anchor="start" textLength="80.4" lengthAdjust="spacingAndGlyphs" stroke="#000" stroke-width="0.25">CONTOUR</text>
<text x="394.1" y="593.0" font-size="18.0" text-anchor="start" textLength="76.1" lengthAdjust="spacingAndGlyphs" stroke="#000" stroke-width="0.25">INTERVAL</text>
<text x="486.2" y="593.0" font-size="18.0" text-anchor="start" textLength="12.3" lengthAdjust="spacingAndGlyphs" stroke="#000" stroke-width="0.25">=</text>
<text x="503.8" y="593.0" font-size="18.0" text-anchor="start" textLength="95.6" lengthAdjust="spacingAndGlyphs" stroke="#000" stroke-width="0.25">5.000E+00</text>
<rect x="315" y="608" width="274" height="20" fill="#000"/><rect x="317.60" y="610" width="1.9" height="16" fill="#8c00be"/><rect x="320.98" y="610" width="1.9" height="16" fill="#7800be"/><rect x="324.35" y="610" width="1.9" height="16" fill="#6200be"/><rect x="327.73" y="610" width="1.9" height="16" fill="#4800be"/><rect x="331.10" y="610" width="1.9" height="16" fill="#1e00c3"/><rect x="334.48" y="610" width="1.9" height="16" fill="#0000cf"/><rect x="337.85" y="610" width="1.9" height="16" fill="#0000dd"/><rect x="341.23" y="610" width="1.9" height="16" fill="#0000ea"/><rect x="344.60" y="610" width="1.9" height="16" fill="#0000f8"/><rect x="347.98" y="610" width="1.9" height="16" fill="#0009ff"/><rect x="351.35" y="610" width="1.9" height="16" fill="#001bff"/><rect x="354.73" y="610" width="1.9" height="16" fill="#002eff"/><rect x="358.10" y="610" width="1.9" height="16" fill="#0040ff"/><rect x="361.48" y="610" width="1.9" height="16" fill="#0052ff"/><rect x="364.85" y="610" width="1.9" height="16" fill="#0064ff"/><rect x="368.23" y="610" width="1.9" height="16" fill="#0076ff"/><rect x="371.60" y="610" width="1.9" height="16" fill="#0089ff"/><rect x="374.98" y="610" width="1.9" height="16" fill="#009bff"/><rect x="378.35" y="610" width="1.9" height="16" fill="#00adff"/><rect x="381.73" y="610" width="1.9" height="16" fill="#00bfff"/><rect x="385.10" y="610" width="1.9" height="16" fill="#00d1ff"/><rect x="388.48" y="610" width="1.9" height="16" fill="#00e4ff"/><rect x="391.85" y="610" width="1.9" height="16" fill="#00f6ff"/><rect x="395.23" y="610" width="1.9" height="16" fill="#00fdfa"/><rect x="398.60" y="610" width="1.9" height="16" fill="#00f9f0"/><rect x="401.98" y="610" width="1.9" height="16" fill="#00f5e6"/><rect x="405.35" y="610" width="1.9" height="16" fill="#00f1dc"/><rect x="408.73" y="610" width="1.9" height="16" fill="#00edd2"/><rect x="412.10" y="610" width="1.9" height="16" fill="#00eec6"/><rect x="415.48" y="610" width="1.9" height="16" fill="#00f2b8"/><rect x="418.85" y="610" width="1.9" height="16" fill="#00f8ab"/><rect x="422.23" y="610" width="1.9" height="16" fill="#00fc9d"/><rect x="425.60" y="610" width="1.9" height="16" fill="#00ff8e"/><rect x="428.98" y="610" width="1.9" height="16" fill="#00ff80"/><rect x="432.35" y="610" width="1.9" height="16" fill="#00ff70"/><rect x="435.73" y="610" width="1.9" height="16" fill="#00ff62"/><rect x="439.10" y="610" width="1.9" height="16" fill="#00ff50"/><rect x="442.48" y="610" width="1.9" height="16" fill="#00ff3c"/><rect x="445.85" y="610" width="1.9" height="16" fill="#00ff28"/><rect x="449.23" y="610" width="1.9" height="16" fill="#00ff14"/><rect x="452.60" y="610" width="1.9" height="16" fill="#08ff09"/><rect x="455.98" y="610" width="1.9" height="16" fill="#16ff06"/><rect x="459.35" y="610" width="1.9" height="16" fill="#26ff04"/><rect x="462.73" y="610" width="1.9" height="16" fill="#34ff01"/><rect x="466.10" y="610" width="1.9" height="16" fill="#44ff00"/><rect x="469.48" y="610" width="1.9" height="16" fill="#55ff00"/><rect x="472.85" y="610" width="1.9" height="16" fill="#66ff00"/><rect x="476.23" y="610" width="1.9" height="16" fill="#77ff00"/><rect x="479.60" y="610" width="1.9" height="16" fill="#89ff00"/><rect x="482.98" y="610" width="1.9" height="16" fill="#9bff00"/><rect x="486.35" y="610" width="1.9" height="16" fill="#adff00"/><rect x="489.73" y="610" width="1.9" height="16" fill="#bfff00"/><rect x="493.10" y="610" width="1.9" height="16" fill="#d1ff00"/><rect x="496.48" y="610" width="1.9" height="16" fill="#e4ff00"/><rect x="499.85" y="610" width="1.9" height="16" fill="#f6ff00"/><rect x="503.23" y="610" width="1.9" height="16" fill="#fff800"/><rect x="506.60" y="610" width="1.9" height="16" fill="#ffea00"/><rect x="509.98" y="610" width="1.9" height="16" fill="#ffdd00"/><rect x="513.35" y="610" width="1.9" height="16" fill="#ffcf00"/><rect x="516.73" y="610" width="1.9" height="16" fill="#ffc000"/><rect x="520.10" y="610" width="1.9" height="16" fill="#ffaf00"/><rect x="523.48" y="610" width="1.9" height="16" fill="#ff9e00"/><rect x="526.85" y="610" width="1.9" height="16" fill="#ff9000"/><rect x="530.23" y="610" width="1.9" height="16" fill="#ff8300"/><rect x="533.60" y="610" width="1.9" height="16" fill="#ff7700"/><rect x="536.98" y="610" width="1.9" height="16" fill="#ff6a00"/><rect x="540.35" y="610" width="1.9" height="16" fill="#ff5a00"/><rect x="543.73" y="610" width="1.9" height="16" fill="#ff4600"/><rect x="547.10" y="610" width="1.9" height="16" fill="#ff3200"/><rect x="550.48" y="610" width="1.9" height="16" fill="#ff1e00"/><rect x="553.85" y="610" width="1.9" height="16" fill="#ff0a00"/><rect x="557.23" y="610" width="1.9" height="16" fill="#ff0808"/><rect x="560.60" y="610" width="1.9" height="16" fill="#ff1919"/><rect x="563.98" y="610" width="1.9" height="16" fill="#ff2a2a"/><rect x="567.35" y="610" width="1.9" height="16" fill="#ff3a3a"/><rect x="570.73" y="610" width="1.9" height="16" fill="#ff4b4b"/><rect x="574.10" y="610" width="1.9" height="16" fill="#ff5c5c"/><rect x="577.48" y="610" width="1.9" height="16" fill="#ff7070"/><rect x="580.85" y="610" width="1.9" height="16" fill="#ff8787"/><rect x="584.23" y="610" width="1.9" height="16" fill="#ff9e9e"/>
<text x="327.7" y="646.9" font-size="16.5" text-anchor="start" textLength="31.6" lengthAdjust="spacingAndGlyphs" stroke="#000" stroke-width="0.25">&#8722;32</text>
<text x="382.0" y="646.9" font-size="16.5" text-anchor="start" textLength="32.0" lengthAdjust="spacingAndGlyphs" stroke="#000" stroke-width="0.25">&#8722;16</text>
<text x="447.9" y="646.9" font-size="16.5" text-anchor="start" textLength="8.1" lengthAdjust="spacingAndGlyphs" stroke="#000" stroke-width="0.25">0</text>
<text x="496.8" y="646.9" font-size="16.5" text-anchor="start" textLength="19.4" lengthAdjust="spacingAndGlyphs" stroke="#000" stroke-width="0.25">16</text>
<text x="551.6" y="646.9" font-size="16.5" text-anchor="start" textLength="18.8" lengthAdjust="spacingAndGlyphs" stroke="#000" stroke-width="0.25">32</text>
</svg></body></html>
